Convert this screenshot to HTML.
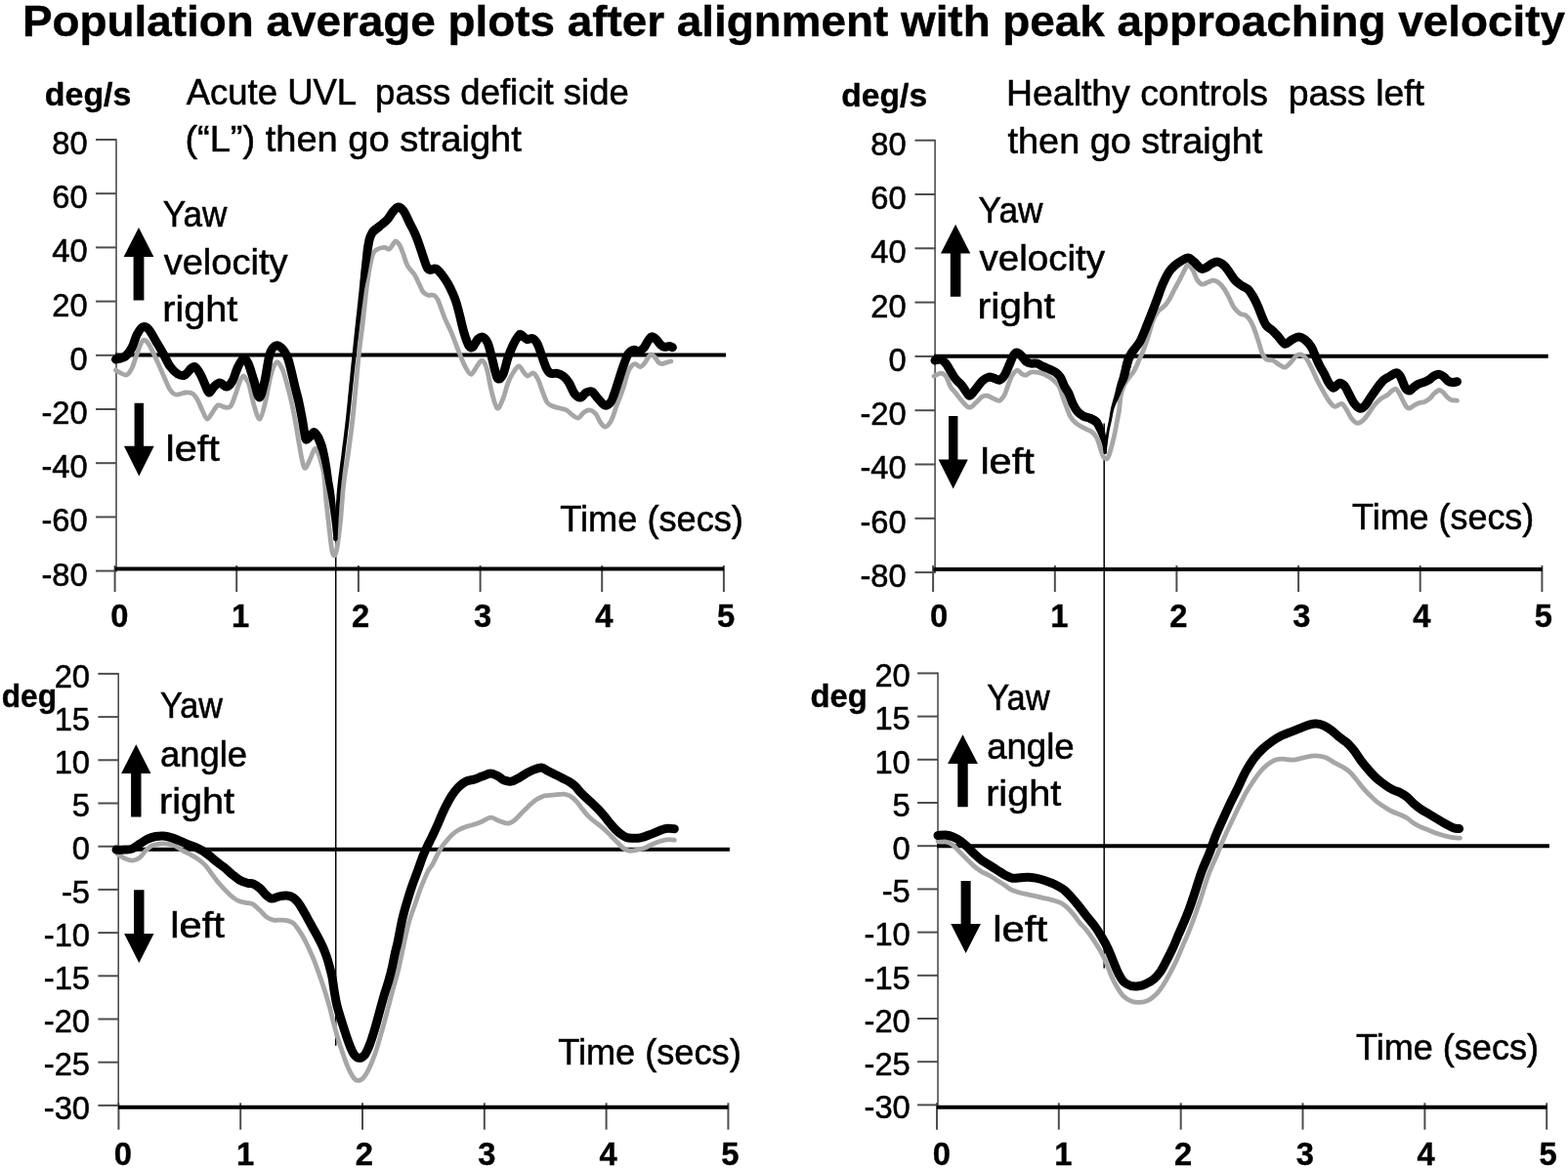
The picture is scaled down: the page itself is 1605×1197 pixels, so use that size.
<!DOCTYPE html>
<html><head><meta charset="utf-8"><title>Population average plots after alignment with peak approaching velocity</title>
<style>html,body{margin:0;padding:0;background:#fff;overflow:hidden}svg{display:block}text{font-family:"Liberation Sans", "DejaVu Sans", sans-serif}</style></head>
<body><svg width="1605" height="1197" viewBox="0 0 1605 1197">
<rect width="1605" height="1197" fill="#fff"/>
<text x="23.0" y="37.0" font-size="44.5" font-weight="bold" textLength="1579.0" lengthAdjust="spacingAndGlyphs" text-anchor="start" fill="#000" stroke="#000" stroke-width="0.4" xml:space="preserve">Population average plots after alignment with peak approaching velocity</text>
<line x1="119.0" y1="142.2" x2="119.0" y2="585.4" stroke="#4d4d4d" stroke-width="1.6" stroke-linecap="butt"/>
<line x1="98.0" y1="143.0" x2="119.0" y2="143.0" stroke="#4d4d4d" stroke-width="2.0" stroke-linecap="butt"/>
<text x="89.7" y="157.9" font-size="32.7" text-anchor="end" fill="#000" stroke="#000" stroke-width="0.55" xml:space="preserve">80</text>
<line x1="98.0" y1="198.2" x2="119.0" y2="198.2" stroke="#4d4d4d" stroke-width="2.0" stroke-linecap="butt"/>
<text x="89.7" y="213.1" font-size="32.7" text-anchor="end" fill="#000" stroke="#000" stroke-width="0.55" xml:space="preserve">60</text>
<line x1="98.0" y1="253.4" x2="119.0" y2="253.4" stroke="#4d4d4d" stroke-width="2.0" stroke-linecap="butt"/>
<text x="89.7" y="268.3" font-size="32.7" text-anchor="end" fill="#000" stroke="#000" stroke-width="0.55" xml:space="preserve">40</text>
<line x1="98.0" y1="308.6" x2="119.0" y2="308.6" stroke="#4d4d4d" stroke-width="2.0" stroke-linecap="butt"/>
<text x="89.7" y="323.5" font-size="32.7" text-anchor="end" fill="#000" stroke="#000" stroke-width="0.55" xml:space="preserve">20</text>
<line x1="98.0" y1="363.8" x2="119.0" y2="363.8" stroke="#4d4d4d" stroke-width="2.0" stroke-linecap="butt"/>
<text x="89.7" y="378.7" font-size="32.7" text-anchor="end" fill="#000" stroke="#000" stroke-width="0.55" xml:space="preserve">0</text>
<line x1="98.0" y1="419.0" x2="119.0" y2="419.0" stroke="#4d4d4d" stroke-width="2.0" stroke-linecap="butt"/>
<text x="89.7" y="433.9" font-size="32.7" text-anchor="end" fill="#000" stroke="#000" stroke-width="0.55" xml:space="preserve">-20</text>
<line x1="98.0" y1="474.2" x2="119.0" y2="474.2" stroke="#4d4d4d" stroke-width="2.0" stroke-linecap="butt"/>
<text x="89.7" y="489.1" font-size="32.7" text-anchor="end" fill="#000" stroke="#000" stroke-width="0.55" xml:space="preserve">-40</text>
<line x1="98.0" y1="529.4" x2="119.0" y2="529.4" stroke="#4d4d4d" stroke-width="2.0" stroke-linecap="butt"/>
<text x="89.7" y="544.3" font-size="32.7" text-anchor="end" fill="#000" stroke="#000" stroke-width="0.55" xml:space="preserve">-60</text>
<line x1="98.0" y1="584.6" x2="119.0" y2="584.6" stroke="#4d4d4d" stroke-width="2.0" stroke-linecap="butt"/>
<text x="89.7" y="599.5" font-size="32.7" text-anchor="end" fill="#000" stroke="#000" stroke-width="0.55" xml:space="preserve">-80</text>
<line x1="117.6" y1="579.0" x2="117.6" y2="606.0" stroke="#4d4d4d" stroke-width="2.0" stroke-linecap="butt"/>
<text x="122.3" y="642.0" font-size="32.7" font-weight="bold" text-anchor="middle" fill="#000" stroke="#000" stroke-width="0.4" xml:space="preserve">0</text>
<line x1="242.2" y1="579.0" x2="242.2" y2="606.0" stroke="#4d4d4d" stroke-width="2.0" stroke-linecap="butt"/>
<text x="246.0" y="642.0" font-size="32.7" font-weight="bold" text-anchor="middle" fill="#000" stroke="#000" stroke-width="0.4" xml:space="preserve">1</text>
<line x1="366.9" y1="579.0" x2="366.9" y2="606.0" stroke="#4d4d4d" stroke-width="2.0" stroke-linecap="butt"/>
<text x="369.0" y="642.0" font-size="32.7" font-weight="bold" text-anchor="middle" fill="#000" stroke="#000" stroke-width="0.4" xml:space="preserve">2</text>
<line x1="491.6" y1="579.0" x2="491.6" y2="606.0" stroke="#4d4d4d" stroke-width="2.0" stroke-linecap="butt"/>
<text x="494.0" y="642.0" font-size="32.7" font-weight="bold" text-anchor="middle" fill="#000" stroke="#000" stroke-width="0.4" xml:space="preserve">3</text>
<line x1="616.2" y1="579.0" x2="616.2" y2="606.0" stroke="#4d4d4d" stroke-width="2.0" stroke-linecap="butt"/>
<text x="618.3" y="642.0" font-size="32.7" font-weight="bold" text-anchor="middle" fill="#000" stroke="#000" stroke-width="0.4" xml:space="preserve">4</text>
<line x1="740.9" y1="579.0" x2="740.9" y2="606.0" stroke="#4d4d4d" stroke-width="2.0" stroke-linecap="butt"/>
<text x="743.2" y="642.0" font-size="32.7" font-weight="bold" text-anchor="middle" fill="#000" stroke="#000" stroke-width="0.4" xml:space="preserve">5</text>
<line x1="957.1" y1="142.9" x2="957.1" y2="586.9" stroke="#4d4d4d" stroke-width="1.6" stroke-linecap="butt"/>
<line x1="936.5" y1="143.7" x2="957.1" y2="143.7" stroke="#4d4d4d" stroke-width="2.0" stroke-linecap="butt"/>
<text x="927.7" y="158.6" font-size="32.7" text-anchor="end" fill="#000" stroke="#000" stroke-width="0.55" xml:space="preserve">80</text>
<line x1="936.5" y1="199.0" x2="957.1" y2="199.0" stroke="#4d4d4d" stroke-width="2.0" stroke-linecap="butt"/>
<text x="927.7" y="213.9" font-size="32.7" text-anchor="end" fill="#000" stroke="#000" stroke-width="0.55" xml:space="preserve">60</text>
<line x1="936.5" y1="254.3" x2="957.1" y2="254.3" stroke="#4d4d4d" stroke-width="2.0" stroke-linecap="butt"/>
<text x="927.7" y="269.2" font-size="32.7" text-anchor="end" fill="#000" stroke="#000" stroke-width="0.55" xml:space="preserve">40</text>
<line x1="936.5" y1="309.6" x2="957.1" y2="309.6" stroke="#4d4d4d" stroke-width="2.0" stroke-linecap="butt"/>
<text x="927.7" y="324.5" font-size="32.7" text-anchor="end" fill="#000" stroke="#000" stroke-width="0.55" xml:space="preserve">20</text>
<line x1="936.5" y1="364.9" x2="957.1" y2="364.9" stroke="#4d4d4d" stroke-width="2.0" stroke-linecap="butt"/>
<text x="927.7" y="379.8" font-size="32.7" text-anchor="end" fill="#000" stroke="#000" stroke-width="0.55" xml:space="preserve">0</text>
<line x1="936.5" y1="420.2" x2="957.1" y2="420.2" stroke="#4d4d4d" stroke-width="2.0" stroke-linecap="butt"/>
<text x="927.7" y="435.1" font-size="32.7" text-anchor="end" fill="#000" stroke="#000" stroke-width="0.55" xml:space="preserve">-20</text>
<line x1="936.5" y1="475.5" x2="957.1" y2="475.5" stroke="#4d4d4d" stroke-width="2.0" stroke-linecap="butt"/>
<text x="927.7" y="490.4" font-size="32.7" text-anchor="end" fill="#000" stroke="#000" stroke-width="0.55" xml:space="preserve">-40</text>
<line x1="936.5" y1="530.8" x2="957.1" y2="530.8" stroke="#4d4d4d" stroke-width="2.0" stroke-linecap="butt"/>
<text x="927.7" y="545.7" font-size="32.7" text-anchor="end" fill="#000" stroke="#000" stroke-width="0.55" xml:space="preserve">-60</text>
<line x1="936.5" y1="586.1" x2="957.1" y2="586.1" stroke="#4d4d4d" stroke-width="2.0" stroke-linecap="butt"/>
<text x="927.7" y="601.0" font-size="32.7" text-anchor="end" fill="#000" stroke="#000" stroke-width="0.55" xml:space="preserve">-80</text>
<line x1="955.1" y1="579.0" x2="955.1" y2="606.0" stroke="#4d4d4d" stroke-width="2.0" stroke-linecap="butt"/>
<text x="961.0" y="642.0" font-size="32.7" font-weight="bold" text-anchor="middle" fill="#000" stroke="#000" stroke-width="0.4" xml:space="preserve">0</text>
<line x1="1079.8" y1="579.0" x2="1079.8" y2="606.0" stroke="#4d4d4d" stroke-width="2.0" stroke-linecap="butt"/>
<text x="1084.4" y="642.0" font-size="32.7" font-weight="bold" text-anchor="middle" fill="#000" stroke="#000" stroke-width="0.4" xml:space="preserve">1</text>
<line x1="1204.4" y1="579.0" x2="1204.4" y2="606.0" stroke="#4d4d4d" stroke-width="2.0" stroke-linecap="butt"/>
<text x="1206.3" y="642.0" font-size="32.7" font-weight="bold" text-anchor="middle" fill="#000" stroke="#000" stroke-width="0.4" xml:space="preserve">2</text>
<line x1="1329.1" y1="579.0" x2="1329.1" y2="606.0" stroke="#4d4d4d" stroke-width="2.0" stroke-linecap="butt"/>
<text x="1332.3" y="642.0" font-size="32.7" font-weight="bold" text-anchor="middle" fill="#000" stroke="#000" stroke-width="0.4" xml:space="preserve">3</text>
<line x1="1453.7" y1="579.0" x2="1453.7" y2="606.0" stroke="#4d4d4d" stroke-width="2.0" stroke-linecap="butt"/>
<text x="1455.4" y="642.0" font-size="32.7" font-weight="bold" text-anchor="middle" fill="#000" stroke="#000" stroke-width="0.4" xml:space="preserve">4</text>
<line x1="1578.4" y1="579.0" x2="1578.4" y2="606.0" stroke="#4d4d4d" stroke-width="2.0" stroke-linecap="butt"/>
<text x="1579.9" y="642.0" font-size="32.7" font-weight="bold" text-anchor="middle" fill="#000" stroke="#000" stroke-width="0.4" xml:space="preserve">5</text>
<line x1="121.2" y1="689.1" x2="121.2" y2="1132.7" stroke="#4d4d4d" stroke-width="1.6" stroke-linecap="butt"/>
<line x1="100.4" y1="689.9" x2="121.2" y2="689.9" stroke="#4d4d4d" stroke-width="2.0" stroke-linecap="butt"/>
<text x="92.0" y="703.6" font-size="32.7" text-anchor="end" fill="#000" stroke="#000" stroke-width="0.55" xml:space="preserve">20</text>
<line x1="100.4" y1="734.1" x2="121.2" y2="734.1" stroke="#4d4d4d" stroke-width="2.0" stroke-linecap="butt"/>
<text x="92.0" y="747.8" font-size="32.7" text-anchor="end" fill="#000" stroke="#000" stroke-width="0.55" xml:space="preserve">15</text>
<line x1="100.4" y1="778.3" x2="121.2" y2="778.3" stroke="#4d4d4d" stroke-width="2.0" stroke-linecap="butt"/>
<text x="92.0" y="792.0" font-size="32.7" text-anchor="end" fill="#000" stroke="#000" stroke-width="0.55" xml:space="preserve">10</text>
<line x1="100.4" y1="822.5" x2="121.2" y2="822.5" stroke="#4d4d4d" stroke-width="2.0" stroke-linecap="butt"/>
<text x="92.0" y="836.2" font-size="32.7" text-anchor="end" fill="#000" stroke="#000" stroke-width="0.55" xml:space="preserve">5</text>
<line x1="100.4" y1="866.7" x2="121.2" y2="866.7" stroke="#4d4d4d" stroke-width="2.0" stroke-linecap="butt"/>
<text x="92.0" y="880.4" font-size="32.7" text-anchor="end" fill="#000" stroke="#000" stroke-width="0.55" xml:space="preserve">0</text>
<line x1="100.4" y1="910.9" x2="121.2" y2="910.9" stroke="#4d4d4d" stroke-width="2.0" stroke-linecap="butt"/>
<text x="92.0" y="924.6" font-size="32.7" text-anchor="end" fill="#000" stroke="#000" stroke-width="0.55" xml:space="preserve">-5</text>
<line x1="100.4" y1="955.1" x2="121.2" y2="955.1" stroke="#4d4d4d" stroke-width="2.0" stroke-linecap="butt"/>
<text x="92.0" y="968.8" font-size="32.7" text-anchor="end" fill="#000" stroke="#000" stroke-width="0.55" xml:space="preserve">-10</text>
<line x1="100.4" y1="999.3" x2="121.2" y2="999.3" stroke="#4d4d4d" stroke-width="2.0" stroke-linecap="butt"/>
<text x="92.0" y="1013.0" font-size="32.7" text-anchor="end" fill="#000" stroke="#000" stroke-width="0.55" xml:space="preserve">-15</text>
<line x1="100.4" y1="1043.5" x2="121.2" y2="1043.5" stroke="#4d4d4d" stroke-width="2.0" stroke-linecap="butt"/>
<text x="92.0" y="1057.2" font-size="32.7" text-anchor="end" fill="#000" stroke="#000" stroke-width="0.55" xml:space="preserve">-20</text>
<line x1="100.4" y1="1087.7" x2="121.2" y2="1087.7" stroke="#4d4d4d" stroke-width="2.0" stroke-linecap="butt"/>
<text x="92.0" y="1101.4" font-size="32.7" text-anchor="end" fill="#000" stroke="#000" stroke-width="0.55" xml:space="preserve">-25</text>
<line x1="100.4" y1="1131.9" x2="121.2" y2="1131.9" stroke="#4d4d4d" stroke-width="2.0" stroke-linecap="butt"/>
<text x="92.0" y="1145.6" font-size="32.7" text-anchor="end" fill="#000" stroke="#000" stroke-width="0.55" xml:space="preserve">-30</text>
<line x1="121.4" y1="1129.3" x2="121.4" y2="1156.7" stroke="#4d4d4d" stroke-width="2.0" stroke-linecap="butt"/>
<text x="125.9" y="1192.5" font-size="32.7" font-weight="bold" text-anchor="middle" fill="#000" stroke="#000" stroke-width="0.4" xml:space="preserve">0</text>
<line x1="246.2" y1="1129.3" x2="246.2" y2="1156.7" stroke="#4d4d4d" stroke-width="2.0" stroke-linecap="butt"/>
<text x="251.1" y="1192.5" font-size="32.7" font-weight="bold" text-anchor="middle" fill="#000" stroke="#000" stroke-width="0.4" xml:space="preserve">1</text>
<line x1="371.0" y1="1129.3" x2="371.0" y2="1156.7" stroke="#4d4d4d" stroke-width="2.0" stroke-linecap="butt"/>
<text x="372.8" y="1192.5" font-size="32.7" font-weight="bold" text-anchor="middle" fill="#000" stroke="#000" stroke-width="0.4" xml:space="preserve">2</text>
<line x1="495.8" y1="1129.3" x2="495.8" y2="1156.7" stroke="#4d4d4d" stroke-width="2.0" stroke-linecap="butt"/>
<text x="498.4" y="1192.5" font-size="32.7" font-weight="bold" text-anchor="middle" fill="#000" stroke="#000" stroke-width="0.4" xml:space="preserve">3</text>
<line x1="620.6" y1="1129.3" x2="620.6" y2="1156.7" stroke="#4d4d4d" stroke-width="2.0" stroke-linecap="butt"/>
<text x="622.5" y="1192.5" font-size="32.7" font-weight="bold" text-anchor="middle" fill="#000" stroke="#000" stroke-width="0.4" xml:space="preserve">4</text>
<line x1="745.4" y1="1129.3" x2="745.4" y2="1156.7" stroke="#4d4d4d" stroke-width="2.0" stroke-linecap="butt"/>
<text x="747.3" y="1192.5" font-size="32.7" font-weight="bold" text-anchor="middle" fill="#000" stroke="#000" stroke-width="0.4" xml:space="preserve">5</text>
<line x1="960.0" y1="688.6" x2="960.0" y2="1132.2" stroke="#4d4d4d" stroke-width="1.6" stroke-linecap="butt"/>
<line x1="939.1" y1="689.4" x2="960.0" y2="689.4" stroke="#4d4d4d" stroke-width="2.0" stroke-linecap="butt"/>
<text x="931.8" y="703.1" font-size="32.7" text-anchor="end" fill="#000" stroke="#000" stroke-width="0.55" xml:space="preserve">20</text>
<line x1="939.1" y1="733.6" x2="960.0" y2="733.6" stroke="#4d4d4d" stroke-width="2.0" stroke-linecap="butt"/>
<text x="931.8" y="747.3" font-size="32.7" text-anchor="end" fill="#000" stroke="#000" stroke-width="0.55" xml:space="preserve">15</text>
<line x1="939.1" y1="777.8" x2="960.0" y2="777.8" stroke="#4d4d4d" stroke-width="2.0" stroke-linecap="butt"/>
<text x="931.8" y="791.5" font-size="32.7" text-anchor="end" fill="#000" stroke="#000" stroke-width="0.55" xml:space="preserve">10</text>
<line x1="939.1" y1="822.0" x2="960.0" y2="822.0" stroke="#4d4d4d" stroke-width="2.0" stroke-linecap="butt"/>
<text x="931.8" y="835.7" font-size="32.7" text-anchor="end" fill="#000" stroke="#000" stroke-width="0.55" xml:space="preserve">5</text>
<line x1="939.1" y1="866.2" x2="960.0" y2="866.2" stroke="#4d4d4d" stroke-width="2.0" stroke-linecap="butt"/>
<text x="931.8" y="879.9" font-size="32.7" text-anchor="end" fill="#000" stroke="#000" stroke-width="0.55" xml:space="preserve">0</text>
<line x1="939.1" y1="910.4" x2="960.0" y2="910.4" stroke="#4d4d4d" stroke-width="2.0" stroke-linecap="butt"/>
<text x="931.8" y="924.1" font-size="32.7" text-anchor="end" fill="#000" stroke="#000" stroke-width="0.55" xml:space="preserve">-5</text>
<line x1="939.1" y1="954.6" x2="960.0" y2="954.6" stroke="#4d4d4d" stroke-width="2.0" stroke-linecap="butt"/>
<text x="931.8" y="968.3" font-size="32.7" text-anchor="end" fill="#000" stroke="#000" stroke-width="0.55" xml:space="preserve">-10</text>
<line x1="939.1" y1="998.8" x2="960.0" y2="998.8" stroke="#4d4d4d" stroke-width="2.0" stroke-linecap="butt"/>
<text x="931.8" y="1012.5" font-size="32.7" text-anchor="end" fill="#000" stroke="#000" stroke-width="0.55" xml:space="preserve">-15</text>
<line x1="939.1" y1="1043.0" x2="960.0" y2="1043.0" stroke="#4d4d4d" stroke-width="2.0" stroke-linecap="butt"/>
<text x="931.8" y="1056.7" font-size="32.7" text-anchor="end" fill="#000" stroke="#000" stroke-width="0.55" xml:space="preserve">-20</text>
<line x1="939.1" y1="1087.2" x2="960.0" y2="1087.2" stroke="#4d4d4d" stroke-width="2.0" stroke-linecap="butt"/>
<text x="931.8" y="1100.9" font-size="32.7" text-anchor="end" fill="#000" stroke="#000" stroke-width="0.55" xml:space="preserve">-25</text>
<line x1="939.1" y1="1131.4" x2="960.0" y2="1131.4" stroke="#4d4d4d" stroke-width="2.0" stroke-linecap="butt"/>
<text x="931.8" y="1145.1" font-size="32.7" text-anchor="end" fill="#000" stroke="#000" stroke-width="0.55" xml:space="preserve">-30</text>
<line x1="959.0" y1="1129.3" x2="959.0" y2="1156.7" stroke="#4d4d4d" stroke-width="2.0" stroke-linecap="butt"/>
<text x="963.9" y="1192.5" font-size="32.7" font-weight="bold" text-anchor="middle" fill="#000" stroke="#000" stroke-width="0.4" xml:space="preserve">0</text>
<line x1="1083.8" y1="1129.3" x2="1083.8" y2="1156.7" stroke="#4d4d4d" stroke-width="2.0" stroke-linecap="butt"/>
<text x="1088.3" y="1192.5" font-size="32.7" font-weight="bold" text-anchor="middle" fill="#000" stroke="#000" stroke-width="0.4" xml:space="preserve">1</text>
<line x1="1208.7" y1="1129.3" x2="1208.7" y2="1156.7" stroke="#4d4d4d" stroke-width="2.0" stroke-linecap="butt"/>
<text x="1211.0" y="1192.5" font-size="32.7" font-weight="bold" text-anchor="middle" fill="#000" stroke="#000" stroke-width="0.4" xml:space="preserve">2</text>
<line x1="1333.5" y1="1129.3" x2="1333.5" y2="1156.7" stroke="#4d4d4d" stroke-width="2.0" stroke-linecap="butt"/>
<text x="1335.8" y="1192.5" font-size="32.7" font-weight="bold" text-anchor="middle" fill="#000" stroke="#000" stroke-width="0.4" xml:space="preserve">3</text>
<line x1="1458.4" y1="1129.3" x2="1458.4" y2="1156.7" stroke="#4d4d4d" stroke-width="2.0" stroke-linecap="butt"/>
<text x="1459.5" y="1192.5" font-size="32.7" font-weight="bold" text-anchor="middle" fill="#000" stroke="#000" stroke-width="0.4" xml:space="preserve">4</text>
<line x1="1583.2" y1="1129.3" x2="1583.2" y2="1156.7" stroke="#4d4d4d" stroke-width="2.0" stroke-linecap="butt"/>
<text x="1584.6" y="1192.5" font-size="32.7" font-weight="bold" text-anchor="middle" fill="#000" stroke="#000" stroke-width="0.4" xml:space="preserve">5</text>
<text x="45.8" y="108.3" font-size="34" font-weight="bold" textLength="88.6" lengthAdjust="spacingAndGlyphs" text-anchor="start" fill="#000" stroke="#000" stroke-width="0.4" xml:space="preserve">deg/s</text>
<text x="190.7" y="107.4" font-size="36.2" textLength="453.1" lengthAdjust="spacingAndGlyphs" text-anchor="start" fill="#000" stroke="#000" stroke-width="0.55" xml:space="preserve">Acute UVL  pass deficit side</text>
<text x="189.4" y="154.8" font-size="36.2" textLength="344.4" lengthAdjust="spacingAndGlyphs" text-anchor="start" fill="#000" stroke="#000" stroke-width="0.55" xml:space="preserve">(“L”) then go straight</text>
<text x="166.7" y="231.7" font-size="36.2" textLength="65.7" lengthAdjust="spacingAndGlyphs" text-anchor="start" fill="#000" stroke="#000" stroke-width="0.55" xml:space="preserve">Yaw</text>
<text x="167.7" y="280.5" font-size="36.2" textLength="126.8" lengthAdjust="spacingAndGlyphs" text-anchor="start" fill="#000" stroke="#000" stroke-width="0.55" xml:space="preserve">velocity</text>
<text x="166.2" y="329.4" font-size="36.2" textLength="77.1" lengthAdjust="spacingAndGlyphs" text-anchor="start" fill="#000" stroke="#000" stroke-width="0.55" xml:space="preserve">right</text>
<text x="169.5" y="472.0" font-size="36.2" textLength="55.3" lengthAdjust="spacingAndGlyphs" text-anchor="start" fill="#000" stroke="#000" stroke-width="0.55" xml:space="preserve">left</text>
<text x="573.3" y="543.7" font-size="36.2" textLength="187.6" lengthAdjust="spacingAndGlyphs" text-anchor="start" fill="#000" stroke="#000" stroke-width="0.55" xml:space="preserve">Time (secs)</text>
<text x="861.3" y="108.5" font-size="34" font-weight="bold" textLength="87.8" lengthAdjust="spacingAndGlyphs" text-anchor="start" fill="#000" stroke="#000" stroke-width="0.4" xml:space="preserve">deg/s</text>
<text x="1030.1" y="107.8" font-size="36.2" textLength="427.9" lengthAdjust="spacingAndGlyphs" text-anchor="start" fill="#000" stroke="#000" stroke-width="0.55" xml:space="preserve">Healthy controls  pass left</text>
<text x="1031.6" y="156.5" font-size="36.2" textLength="260.6" lengthAdjust="spacingAndGlyphs" text-anchor="start" fill="#000" stroke="#000" stroke-width="0.55" xml:space="preserve">then go straight</text>
<text x="1001.6" y="227.7" font-size="36.2" textLength="65.8" lengthAdjust="spacingAndGlyphs" text-anchor="start" fill="#000" stroke="#000" stroke-width="0.55" xml:space="preserve">Yaw</text>
<text x="1002.6" y="277.0" font-size="36.2" textLength="128.3" lengthAdjust="spacingAndGlyphs" text-anchor="start" fill="#000" stroke="#000" stroke-width="0.55" xml:space="preserve">velocity</text>
<text x="1000.6" y="326.4" font-size="36.2" textLength="79.3" lengthAdjust="spacingAndGlyphs" text-anchor="start" fill="#000" stroke="#000" stroke-width="0.55" xml:space="preserve">right</text>
<text x="1003.4" y="485.0" font-size="36.2" textLength="55.3" lengthAdjust="spacingAndGlyphs" text-anchor="start" fill="#000" stroke="#000" stroke-width="0.55" xml:space="preserve">left</text>
<text x="1384.1" y="542.4" font-size="36.2" textLength="186.2" lengthAdjust="spacingAndGlyphs" text-anchor="start" fill="#000" stroke="#000" stroke-width="0.55" xml:space="preserve">Time (secs)</text>
<text x="1.7" y="724.3" font-size="34" font-weight="bold" textLength="56.3" lengthAdjust="spacingAndGlyphs" text-anchor="start" fill="#000" stroke="#000" stroke-width="0.4" xml:space="preserve">deg</text>
<text x="164.1" y="734.8" font-size="36.2" textLength="63.9" lengthAdjust="spacingAndGlyphs" text-anchor="start" fill="#000" stroke="#000" stroke-width="0.55" xml:space="preserve">Yaw</text>
<text x="164.1" y="784.6" font-size="36.2" textLength="89.0" lengthAdjust="spacingAndGlyphs" text-anchor="start" fill="#000" stroke="#000" stroke-width="0.55" xml:space="preserve">angle</text>
<text x="163.1" y="833.2" font-size="36.2" textLength="76.8" lengthAdjust="spacingAndGlyphs" text-anchor="start" fill="#000" stroke="#000" stroke-width="0.55" xml:space="preserve">right</text>
<text x="174.2" y="959.8" font-size="36.2" textLength="55.7" lengthAdjust="spacingAndGlyphs" text-anchor="start" fill="#000" stroke="#000" stroke-width="0.55" xml:space="preserve">left</text>
<text x="571.2" y="1090.0" font-size="36.2" textLength="187.5" lengthAdjust="spacingAndGlyphs" text-anchor="start" fill="#000" stroke="#000" stroke-width="0.55" xml:space="preserve">Time (secs)</text>
<text x="829.6" y="724.3" font-size="34" font-weight="bold" textLength="58.3" lengthAdjust="spacingAndGlyphs" text-anchor="start" fill="#000" stroke="#000" stroke-width="0.4" xml:space="preserve">deg</text>
<text x="1010.2" y="727.3" font-size="36.2" textLength="64.4" lengthAdjust="spacingAndGlyphs" text-anchor="start" fill="#000" stroke="#000" stroke-width="0.55" xml:space="preserve">Yaw</text>
<text x="1010.2" y="776.6" font-size="36.2" textLength="89.5" lengthAdjust="spacingAndGlyphs" text-anchor="start" fill="#000" stroke="#000" stroke-width="0.55" xml:space="preserve">angle</text>
<text x="1009.2" y="825.2" font-size="36.2" textLength="77.0" lengthAdjust="spacingAndGlyphs" text-anchor="start" fill="#000" stroke="#000" stroke-width="0.55" xml:space="preserve">right</text>
<text x="1016.2" y="964.3" font-size="36.2" textLength="55.9" lengthAdjust="spacingAndGlyphs" text-anchor="start" fill="#000" stroke="#000" stroke-width="0.55" xml:space="preserve">left</text>
<text x="1388.0" y="1084.6" font-size="36.2" textLength="187.0" lengthAdjust="spacingAndGlyphs" text-anchor="start" fill="#000" stroke="#000" stroke-width="0.55" xml:space="preserve">Time (secs)</text>
<line x1="118.0" y1="363.6" x2="743.0" y2="363.6" stroke="#000" stroke-width="4.0" stroke-linecap="butt"/>
<line x1="117.6" y1="582.5" x2="741.0" y2="582.5" stroke="#000" stroke-width="4" stroke-linecap="butt"/>
<line x1="956.0" y1="364.7" x2="1584.7" y2="364.7" stroke="#000" stroke-width="4.0" stroke-linecap="butt"/>
<line x1="955.5" y1="583.0" x2="1578.8" y2="583.0" stroke="#000" stroke-width="4" stroke-linecap="butt"/>
<line x1="120.0" y1="869.8" x2="746.9" y2="869.8" stroke="#000" stroke-width="4.0" stroke-linecap="butt"/>
<line x1="121.0" y1="1133.8" x2="745.4" y2="1133.8" stroke="#000" stroke-width="4" stroke-linecap="butt"/>
<line x1="959.0" y1="866.2" x2="1585.9" y2="866.2" stroke="#000" stroke-width="4.0" stroke-linecap="butt"/>
<line x1="958.8" y1="1133.8" x2="1583.2" y2="1133.8" stroke="#000" stroke-width="4" stroke-linecap="butt"/>
<line x1="343.7" y1="540.0" x2="343.7" y2="1070.7" stroke="#000" stroke-width="1.5" stroke-linecap="butt"/>
<line x1="1130.2" y1="433.6" x2="1130.2" y2="991.5" stroke="#000" stroke-width="1.5" stroke-linecap="butt"/>
<path d="M142.0,232.9 L157.4,263.0 L147.4,263.0 L147.4,307.6 L136.6,307.6 L136.6,263.0 L126.6,263.0 Z" fill="#000"/>
<path d="M137.6,412.7 L147.0,412.7 L147.0,456.8 L157.7,456.8 L142.3,487.6 L126.9,456.8 L137.6,456.8 Z" fill="#000"/>
<path d="M978.1,229.7 L993.3,259.6 L983.4,259.6 L983.4,303.7 L972.8,303.7 L972.8,259.6 L962.9,259.6 Z" fill="#000"/>
<path d="M971.0,426.0 L980.4,426.0 L980.4,470.5 L990.8,470.5 L975.7,500.4 L960.6,470.5 L971.0,470.5 Z" fill="#000"/>
<path d="M139.3,762.2 L154.5,792.1 L144.5,792.1 L144.5,836.4 L134.1,836.4 L134.1,792.1 L124.1,792.1 Z" fill="#000"/>
<path d="M137.1,911.2 L147.5,911.2 L147.5,956.0 L157.5,956.0 L142.3,986.0 L127.1,956.0 L137.1,956.0 Z" fill="#000"/>
<path d="M985.5,752.2 L1000.9,782.1 L990.7,782.1 L990.7,826.2 L980.3,826.2 L980.3,782.1 L970.1,782.1 Z" fill="#000"/>
<path d="M983.6,902.0 L993.6,902.0 L993.6,946.1 L1003.9,946.1 L988.6,976.0 L973.3,946.1 L983.6,946.1 Z" fill="#000"/>
<path d="M118.5,379.0 C120.2,379.8 126.2,384.3 129.0,384.0 C131.8,383.7 133.2,380.5 135.0,377.0 C136.8,373.5 138.2,367.7 140.0,363.0 C141.8,358.3 144.0,350.8 146.0,349.0 C148.0,347.2 149.7,348.8 152.0,352.0 C154.3,355.2 157.3,362.3 160.0,368.0 C162.7,373.7 165.7,380.8 168.0,386.0 C170.3,391.2 172.0,396.0 174.0,399.0 C176.0,402.0 177.3,403.5 180.0,404.0 C182.7,404.5 187.2,402.2 190.0,402.0 C192.8,401.8 195.0,401.8 197.0,403.0 C199.0,404.2 200.3,406.2 202.0,409.0 C203.7,411.8 205.3,416.7 207.0,420.0 C208.7,423.3 210.3,428.5 212.0,429.0 C213.7,429.5 215.2,425.3 217.0,423.0 C218.8,420.7 220.8,416.0 223.0,415.0 C225.2,414.0 227.8,416.8 230.0,417.0 C232.2,417.2 234.2,418.2 236.0,416.0 C237.8,413.8 239.5,408.0 241.0,404.0 C242.5,400.0 243.7,395.2 245.0,392.0 C246.3,388.8 247.7,385.3 249.0,385.0 C250.3,384.7 252.0,388.5 253.0,390.0 C254.0,391.5 253.8,389.8 255.0,394.0 C256.2,398.2 258.2,409.2 260.0,415.0 C261.8,420.8 264.0,429.8 266.0,429.0 C268.0,428.2 270.2,417.3 272.0,410.0 C273.8,402.7 275.2,391.5 277.0,385.0 C278.8,378.5 281.0,372.2 283.0,371.0 C285.0,369.8 287.1,374.0 289.0,378.0 C290.9,382.0 292.6,389.4 294.2,395.0 C295.8,400.6 297.0,405.4 298.4,411.7 C299.8,418.0 301.1,425.0 302.5,432.6 C303.9,440.2 305.4,450.7 306.7,457.6 C307.9,464.6 309.0,470.7 310.0,474.3 C311.0,477.9 311.4,479.7 312.5,479.3 C313.6,478.9 315.4,474.4 316.7,471.8 C318.0,469.2 319.1,465.6 320.1,463.5 C321.1,461.4 321.6,459.2 322.6,459.3 C323.6,459.4 324.8,461.7 325.9,464.3 C327.0,466.9 328.2,471.4 329.2,475.2 C330.2,479.0 331.1,481.1 331.8,486.9 C332.5,492.7 332.8,501.2 333.6,510.0 C334.4,518.8 335.8,530.7 336.8,539.4 C337.8,548.1 338.7,557.1 339.5,562.0 C340.3,566.9 340.8,567.7 341.5,568.5 C342.2,569.3 342.8,568.8 343.5,567.0 C344.2,565.2 344.7,563.6 345.5,558.0 C346.3,552.4 347.4,544.1 348.5,533.6 C349.6,523.1 350.4,506.9 351.8,494.9 C353.2,482.9 355.3,472.9 356.8,461.8 C358.3,450.7 359.8,439.5 361.0,428.4 C362.2,417.3 363.2,406.4 364.3,395.0 C365.4,383.6 366.4,370.8 367.6,360.0 C368.8,349.2 370.2,340.5 371.4,330.0 C372.6,319.5 373.8,306.5 375.0,296.8 C376.2,287.1 377.6,278.1 378.8,271.8 C380.0,265.5 380.8,262.0 382.1,259.2 C383.4,256.4 384.9,256.0 386.8,255.0 C388.7,254.0 391.6,253.4 393.5,253.4 C395.4,253.4 396.8,255.8 398.5,255.0 C400.2,254.2 402.3,249.7 403.5,248.4 C404.7,247.1 404.6,246.7 405.5,247.2 C406.4,247.7 407.9,248.9 409.2,251.2 C410.5,253.5 411.9,257.7 413.2,261.2 C414.5,264.7 415.3,268.8 417.2,272.2 C419.1,275.6 422.3,278.1 424.3,281.3 C426.3,284.5 427.8,288.3 429.3,291.3 C430.8,294.3 431.8,297.5 433.3,299.3 C434.8,301.1 436.5,301.8 438.3,302.3 C440.1,302.8 442.6,301.5 444.3,302.3 C446.0,303.1 446.5,303.5 448.3,307.3 C450.1,311.1 452.5,319.1 455.0,325.1 C457.5,331.1 460.6,337.1 463.1,343.1 C465.6,349.1 467.9,355.9 470.1,361.2 C472.3,366.5 474.1,371.5 476.1,375.2 C478.1,378.9 480.1,383.3 482.1,383.3 C484.1,383.3 486.2,377.6 488.1,375.2 C490.0,372.8 491.5,368.9 493.2,369.2 C494.9,369.5 496.6,372.1 498.2,377.2 C499.8,382.3 501.2,393.2 503.0,400.0 C504.8,406.8 507.0,416.7 509.0,418.0 C511.0,419.3 513.2,412.3 515.0,408.0 C516.8,403.7 518.3,396.3 520.0,392.0 C521.7,387.7 523.2,384.8 525.0,382.0 C526.8,379.2 529.2,375.2 531.0,375.0 C532.8,374.8 534.5,379.3 536.0,381.0 C537.5,382.7 538.3,384.8 540.0,385.0 C541.7,385.2 544.2,381.3 546.0,382.0 C547.8,382.7 549.5,386.0 551.0,389.0 C552.5,392.0 553.5,396.2 555.0,400.0 C556.5,403.8 558.2,409.3 560.0,412.0 C561.8,414.7 563.8,415.0 566.0,416.0 C568.2,417.0 570.7,417.3 573.0,418.0 C575.3,418.7 577.8,418.8 580.0,420.0 C582.2,421.2 584.0,423.7 586.0,425.0 C588.0,426.3 590.0,428.5 592.0,428.0 C594.0,427.5 596.0,423.3 598.0,422.0 C600.0,420.7 602.0,419.7 604.0,420.0 C606.0,420.3 608.2,421.8 610.0,424.0 C611.8,426.2 613.3,430.8 615.0,433.0 C616.7,435.2 618.2,437.5 620.0,437.0 C621.8,436.5 624.2,433.5 626.0,430.0 C627.8,426.5 629.3,420.5 631.0,416.0 C632.7,411.5 634.7,406.7 636.0,403.0 C637.3,399.3 637.9,397.6 639.0,394.0 C640.1,390.4 641.4,384.9 642.6,381.7 C643.8,378.5 645.0,376.4 646.3,374.9 C647.5,373.4 648.6,372.5 650.1,372.6 C651.6,372.7 653.7,375.7 655.3,375.6 C656.9,375.5 658.4,373.5 659.8,371.9 C661.2,370.3 662.5,367.4 663.6,365.9 C664.7,364.4 665.5,362.9 666.6,362.9 C667.7,362.9 669.1,364.5 670.4,365.9 C671.6,367.3 672.9,370.0 674.1,371.1 C675.4,372.2 676.5,372.6 677.9,372.6 C679.3,372.6 680.9,371.5 682.4,371.1 C683.9,370.7 686.1,370.2 686.9,370.0" fill="none" stroke="#a6a6a6" stroke-width="4.8" stroke-linejoin="round" stroke-linecap="round"/>
<path d="M118.5,368.0 C120.1,367.5 125.2,367.0 128.0,365.0 C130.8,363.0 133.0,359.7 135.0,356.0 C137.0,352.3 138.2,346.5 140.0,343.0 C141.8,339.5 144.0,336.0 146.0,335.0 C148.0,334.0 149.7,334.5 152.0,337.0 C154.3,339.5 157.5,345.8 160.0,350.0 C162.5,354.2 164.7,357.8 167.0,362.0 C169.3,366.2 171.5,371.5 174.0,375.0 C176.5,378.5 179.5,381.5 182.0,383.0 C184.5,384.5 186.7,385.0 189.0,384.0 C191.3,383.0 194.2,378.3 196.0,377.0 C197.8,375.7 198.5,375.0 200.0,376.0 C201.5,377.0 203.3,380.0 205.0,383.0 C206.7,386.0 208.5,390.8 210.0,394.0 C211.5,397.2 212.5,401.7 214.0,402.0 C215.5,402.3 217.2,397.7 219.0,396.0 C220.8,394.3 222.8,392.0 225.0,392.0 C227.2,392.0 229.8,396.3 232.0,396.0 C234.2,395.7 236.2,393.2 238.0,390.0 C239.8,386.8 241.2,380.8 243.0,377.0 C244.8,373.2 247.2,367.8 249.0,367.0 C250.8,366.2 252.2,368.2 254.0,372.0 C255.8,375.8 258.1,384.2 260.0,390.0 C261.9,395.8 263.7,407.0 265.5,407.0 C267.3,407.0 269.2,397.3 271.0,390.0 C272.8,382.7 274.2,369.0 276.0,363.0 C277.8,357.0 279.8,355.0 282.0,354.0 C284.2,353.0 286.8,354.7 289.0,357.0 C291.2,359.3 292.9,361.7 295.0,368.0 C297.1,374.3 299.9,387.7 301.7,395.0 C303.5,402.3 304.6,406.1 305.9,411.7 C307.1,417.3 308.2,423.1 309.2,428.4 C310.2,433.7 311.0,439.8 311.7,443.4 C312.4,447.0 312.4,449.5 313.4,450.1 C314.4,450.7 316.2,448.1 317.6,446.8 C319.0,445.6 320.3,442.3 321.7,442.6 C323.1,442.9 324.6,446.0 325.9,448.4 C327.1,450.8 328.6,455.4 329.2,456.8" fill="none" stroke="#000" stroke-width="9.0" stroke-linejoin="round" stroke-linecap="round"/>
<path d="M321.7,450.1 L321.9,450.6 L322.2,451.2 L322.5,452.0 L322.8,452.8 L323.2,453.7 L323.6,454.7 L323.9,455.6 L324.3,456.5 L324.6,457.4 L324.9,458.2 L325.2,459.1 L325.5,459.9 L325.8,460.7 L326.1,461.5 L326.3,462.3 L326.6,463.2 L326.9,464.1 L327.1,465.0 L327.4,465.9 L327.7,467.0 L328.0,468.0 L328.2,469.2 L328.5,470.3 L328.8,471.5 L329.1,472.8 L329.3,474.0 L329.6,475.3 L329.9,476.6 L330.2,477.9 L330.4,479.2 L330.7,480.5 L330.9,481.7 L331.2,483.0 L331.4,484.2 L331.6,485.5 L331.9,486.8 L332.1,488.2 L332.3,489.6 L332.6,491.1 L332.9,492.6 L333.2,494.2 L333.5,495.9 L333.8,497.5 L334.2,499.3 L334.5,501.0 L334.8,502.8 L335.2,504.7 L335.5,506.5 L335.8,508.5 L336.2,510.5 L336.5,512.5 L336.8,514.7 L337.2,517.0 L337.5,519.4 L337.9,521.8 L338.2,524.1 L338.5,526.5 L338.8,528.8 L339.1,531.1 L339.4,533.2 L339.7,535.4 L339.9,537.6 L340.2,539.8 L340.4,542.0 L340.6,544.1 L340.8,546.1 L341.0,548.0 L341.2,549.6 L341.3,551.0 L341.4,552.1 L345.4,551.9 L345.4,550.7 L345.3,549.3 L345.2,547.7 L345.2,545.8 L345.1,543.8 L345.0,541.6 L344.9,539.4 L344.8,537.2 L344.7,534.9 L344.6,532.8 L344.5,530.6 L344.3,528.3 L344.2,526.0 L344.0,523.5 L343.8,521.1 L343.7,518.7 L343.5,516.3 L343.3,514.0 L343.1,511.7 L342.8,509.5 L342.6,507.5 L342.3,505.5 L342.1,503.5 L341.8,501.6 L341.5,499.8 L341.2,498.0 L340.9,496.3 L340.6,494.6 L340.3,493.0 L340.1,491.4 L339.9,489.9 L339.7,488.4 L339.5,487.0 L339.3,485.6 L339.1,484.3 L338.9,483.0 L338.8,481.7 L338.6,480.4 L338.4,479.1 L338.2,477.8 L338.0,476.5 L337.7,475.2 L337.5,473.8 L337.3,472.5 L337.1,471.2 L336.8,469.9 L336.6,468.6 L336.4,467.4 L336.1,466.2 L335.9,465.0 L335.7,463.9 L335.4,462.9 L335.2,461.9 L335.0,460.9 L334.8,459.9 L334.5,459.0 L334.3,458.1 L334.0,457.2 L333.8,456.3 L333.5,455.4 L333.1,454.4 L332.8,453.3 L332.4,452.3 L332.0,451.3 L331.6,450.3 L331.2,449.4 L330.8,448.6 L330.5,447.8 L330.3,447.2 L330.1,446.7 Z" fill="#000" fill-rule="nonzero"/>
<circle cx="325.9" cy="448.4" r="4.5" fill="#000"/>
<circle cx="343.4" cy="552.0" r="2.0" fill="#000"/>
<path d="M345.4,552.1 L345.5,550.2 L345.7,547.7 L345.8,544.7 L346.0,541.3 L346.3,537.7 L346.5,534.0 L346.7,530.2 L347.0,526.6 L347.2,523.2 L347.4,520.1 L347.6,517.4 L347.8,514.8 L348.0,512.4 L348.1,510.0 L348.3,507.7 L348.5,505.3 L348.7,503.0 L348.9,500.5 L349.2,497.9 L349.5,495.1 L349.8,492.1 L350.2,489.0 L350.6,485.8 L351.0,482.5 L351.5,479.1 L351.9,475.7 L352.4,472.3 L352.8,468.8 L353.3,465.4 L353.7,462.0 L354.1,458.7 L354.5,455.4 L355.0,452.0 L355.4,448.7 L355.8,445.4 L356.2,442.0 L356.6,438.7 L357.1,435.3 L357.5,432.0 L357.8,428.6 L358.2,425.3 L358.6,421.9 L358.9,418.5 L359.3,415.2 L359.6,411.8 L359.9,408.4 L360.3,405.1 L360.6,401.8 L361.0,398.5 L361.3,395.2 L361.6,392.0 L362.0,388.8 L362.3,385.6 L362.6,382.4 L363.0,379.3 L363.3,376.2 L363.6,373.0 L364.0,369.8 L364.3,366.7 L364.7,363.4 L365.1,360.2 L365.5,356.9 L365.8,353.6 L366.2,350.3 L366.7,346.9 L367.1,343.6 L367.5,340.3 L367.9,336.9 L368.3,333.6 L368.7,330.3 L369.2,326.9 L369.6,323.3 L370.0,319.7 L370.5,316.1 L370.9,312.5 L371.4,309.0 L371.8,305.7 L372.2,302.6 L372.6,299.7 L373.0,297.1 L373.3,294.9 L373.7,293.0 L374.0,291.4 L374.3,290.0 L374.6,288.7 L374.9,287.5 L375.2,286.3 L375.4,285.1 L375.7,283.9 L376.0,282.5 L376.3,281.1 L376.5,279.7 L376.8,278.3 L377.1,276.9 L377.3,275.5 L377.5,274.1 L377.8,272.7 L378.0,271.3 L378.3,270.0 L378.5,268.6 L378.8,267.1 L379.0,265.7 L379.3,264.2 L379.5,262.8 L379.8,261.3 L380.0,259.9 L380.3,258.5 L380.5,257.2 L380.7,255.9 L380.9,254.7 L381.2,253.6 L381.3,252.4 L381.5,251.4 L381.7,250.3 L381.9,249.4 L382.0,248.5 L382.2,247.6 L382.4,246.8 L382.6,246.1 L382.8,245.4 L383.0,244.6 L383.3,243.9 L383.5,243.3 L383.8,242.7 L384.0,242.2 L384.3,241.6 L384.6,241.2 L384.9,240.7 L385.2,240.3 L385.5,239.9 L385.8,239.5 L386.2,239.1 L386.7,238.7 L387.3,238.2 L387.9,237.7 L388.6,237.3 L389.2,236.8 L389.8,236.4 L390.4,236.0 L390.8,235.7 L385.4,228.5 L385.1,228.7 L384.6,229.0 L384.1,229.5 L383.4,229.9 L382.6,230.5 L381.8,231.1 L381.0,231.8 L380.1,232.5 L379.3,233.3 L378.5,234.1 L377.9,234.9 L377.4,235.7 L376.8,236.5 L376.4,237.4 L376.0,238.2 L375.6,239.1 L375.2,239.9 L374.8,240.8 L374.5,241.7 L374.2,242.6 L373.9,243.6 L373.6,244.6 L373.4,245.7 L373.2,246.7 L373.0,247.7 L372.8,248.8 L372.6,249.9 L372.4,251.0 L372.2,252.1 L372.1,253.3 L371.9,254.5 L371.7,255.9 L371.5,257.3 L371.4,258.7 L371.2,260.2 L371.1,261.6 L370.9,263.1 L370.8,264.6 L370.6,266.0 L370.5,267.4 L370.3,268.8 L370.2,270.2 L370.0,271.6 L369.9,273.0 L369.7,274.4 L369.6,275.8 L369.4,277.2 L369.3,278.6 L369.1,280.1 L369.0,281.5 L368.9,282.8 L368.8,284.1 L368.7,285.3 L368.5,286.5 L368.4,287.7 L368.3,289.1 L368.2,290.6 L368.0,292.3 L367.8,294.2 L367.6,296.5 L367.4,299.1 L367.0,302.0 L366.7,305.1 L366.4,308.5 L366.0,312.0 L365.6,315.6 L365.2,319.2 L364.8,322.8 L364.4,326.3 L364.1,329.7 L363.7,333.1 L363.3,336.4 L363.0,339.7 L362.6,343.1 L362.3,346.4 L361.9,349.8 L361.6,353.1 L361.2,356.4 L360.9,359.7 L360.5,363.0 L360.2,366.2 L359.9,369.4 L359.5,372.6 L359.2,375.7 L358.9,378.9 L358.6,382.0 L358.3,385.2 L358.0,388.4 L357.6,391.6 L357.3,394.8 L357.0,398.1 L356.7,401.4 L356.3,404.7 L356.0,408.1 L355.7,411.4 L355.4,414.8 L355.0,418.1 L354.7,421.5 L354.3,424.8 L354.0,428.2 L353.6,431.5 L353.2,434.9 L352.8,438.2 L352.4,441.5 L352.0,444.9 L351.6,448.2 L351.2,451.6 L350.7,454.9 L350.3,458.2 L349.9,461.6 L349.5,464.9 L349.1,468.3 L348.6,471.8 L348.1,475.2 L347.7,478.6 L347.3,482.0 L346.8,485.3 L346.4,488.6 L346.0,491.7 L345.7,494.7 L345.4,497.5 L345.2,500.1 L344.9,502.6 L344.7,505.0 L344.5,507.4 L344.4,509.7 L344.2,512.1 L344.0,514.5 L343.8,517.1 L343.6,519.9 L343.4,522.9 L343.1,526.3 L342.9,530.0 L342.6,533.7 L342.4,537.4 L342.1,541.0 L341.9,544.4 L341.7,547.4 L341.5,549.9 L341.4,551.9 Z" fill="#000" fill-rule="nonzero"/>
<circle cx="343.4" cy="552.0" r="2.0" fill="#000"/>
<circle cx="388.1" cy="232.1" r="4.5" fill="#000"/>
<path d="M382.0,237.0 C383.0,236.2 385.7,234.1 388.1,232.1 C390.5,230.1 394.0,227.4 396.2,225.1 C398.4,222.8 399.4,220.3 401.2,218.1 C403.0,215.9 405.2,212.4 407.2,212.1 C409.2,211.8 411.2,213.4 413.2,216.1 C415.2,218.8 417.3,224.4 419.2,228.1 C421.1,231.8 422.8,234.8 424.3,238.1 C425.8,241.4 426.8,244.0 428.3,248.2 C429.8,252.4 431.8,258.9 433.3,263.2 C434.8,267.5 436.1,272.0 437.3,274.2 C438.5,276.4 438.8,276.1 440.3,276.3 C441.8,276.5 444.3,274.4 446.3,275.2 C448.3,276.0 450.3,278.8 452.3,281.3 C454.3,283.8 456.5,287.1 458.4,290.3 C460.2,293.5 461.9,297.0 463.4,300.3 C464.8,303.6 465.8,305.9 467.1,310.0 C468.4,314.1 469.8,319.9 471.1,325.1 C472.4,330.3 473.6,336.2 475.1,341.1 C476.6,346.0 478.6,351.9 480.1,354.2 C481.6,356.5 482.6,356.4 484.1,355.2 C485.6,354.0 487.4,348.9 489.1,347.2 C490.8,345.5 492.5,344.5 494.2,345.2 C495.9,345.9 497.7,347.9 499.2,351.2 C500.7,354.5 501.9,360.2 503.2,365.2 C504.5,370.2 506.1,377.5 507.2,381.3 C508.3,385.1 508.7,387.7 510.0,388.0 C511.3,388.3 513.3,386.7 515.0,383.0 C516.7,379.3 518.3,371.0 520.0,366.0 C521.7,361.0 523.6,356.6 525.3,353.0 C527.0,349.4 529.0,346.2 530.3,344.5 C531.6,342.8 531.5,342.0 533.0,342.5 C534.5,343.0 537.2,346.8 539.3,347.5 C541.3,348.2 543.5,345.7 545.3,346.5 C547.1,347.3 548.7,349.3 550.3,352.5 C551.9,355.7 553.5,361.4 555.0,365.5 C556.5,369.6 558.0,374.4 559.4,377.2 C560.8,380.0 561.6,381.4 563.4,382.3 C565.2,383.2 568.1,381.8 570.4,382.3 C572.7,382.8 575.0,383.9 577.0,385.5 C579.0,387.1 580.6,388.9 582.4,391.8 C584.2,394.7 586.1,400.5 588.0,403.0 C589.9,405.5 592.0,407.2 594.0,407.0 C596.0,406.8 598.0,403.0 600.0,402.0 C602.0,401.0 604.0,400.0 606.0,401.0 C608.0,402.0 609.8,405.7 612.0,408.0 C614.2,410.3 616.8,414.3 619.0,415.0 C621.2,415.7 623.4,413.8 625.0,412.0 C626.6,410.2 627.4,406.8 628.5,404.0 C629.6,401.2 630.4,398.4 631.5,395.0 C632.6,391.6 633.8,387.6 635.0,383.9 C636.2,380.2 637.4,376.2 638.8,372.6 C640.2,369.0 641.7,364.5 643.3,362.1 C644.9,359.7 646.9,358.7 648.6,358.3 C650.4,357.9 652.0,360.2 653.8,359.8 C655.5,359.4 657.5,358.0 659.1,356.1 C660.7,354.2 662.2,350.5 663.6,348.6 C665.0,346.7 666.0,344.9 667.4,344.8 C668.8,344.7 670.4,346.4 671.9,347.8 C673.4,349.2 675.0,351.9 676.4,353.1 C677.8,354.4 678.7,355.1 680.2,355.3 C681.7,355.6 684.0,354.5 685.4,354.6 C686.8,354.7 687.9,355.5 688.4,355.7" fill="none" stroke="#000" stroke-width="9.0" stroke-linejoin="round" stroke-linecap="round"/>
<path d="M956.0,385.1 C957.2,384.6 961.0,382.1 963.0,382.1 C965.0,382.1 966.4,382.8 968.1,385.1 C969.8,387.5 971.4,393.4 973.1,396.2 C974.8,399.0 976.1,399.7 978.1,402.2 C980.1,404.7 982.8,408.7 985.1,411.2 C987.4,413.7 989.8,417.0 992.1,417.2 C994.5,417.4 997.0,414.0 999.2,412.2 C1001.4,410.4 1003.4,407.4 1005.2,406.2 C1007.0,405.0 1008.2,404.9 1010.2,405.2 C1012.2,405.5 1015.0,407.4 1017.2,408.2 C1019.4,409.0 1021.4,410.9 1023.2,410.2 C1025.0,409.5 1026.8,407.0 1028.3,404.2 C1029.8,401.4 1031.0,396.5 1032.3,393.2 C1033.6,389.9 1034.8,386.5 1036.3,384.1 C1037.8,381.8 1039.6,379.3 1041.3,379.1 C1043.0,378.9 1044.8,382.3 1046.3,383.1 C1047.8,383.9 1048.8,384.4 1050.3,384.1 C1051.8,383.8 1053.4,381.6 1055.3,381.1 C1057.2,380.6 1059.2,380.8 1061.4,381.1 C1063.6,381.4 1066.1,382.1 1068.4,383.1 C1070.7,384.1 1073.4,385.8 1075.4,387.1 C1077.4,388.5 1078.9,389.7 1080.4,391.2 C1081.9,392.7 1083.2,393.9 1084.4,396.2 C1085.6,398.5 1086.2,401.9 1087.4,405.2 C1088.6,408.5 1090.1,412.7 1091.4,416.2 C1092.8,419.7 1094.0,423.6 1095.5,426.3 C1097.0,429.0 1098.8,430.8 1100.5,432.5 C1102.2,434.2 1103.9,435.1 1106.0,436.3 C1108.1,437.6 1111.2,439.0 1113.1,440.0 C1115.0,441.0 1116.0,440.9 1117.5,442.2 C1119.0,443.4 1120.9,445.4 1122.2,447.5 C1123.5,449.6 1124.2,452.6 1125.1,455.1 C1126.0,457.6 1126.7,460.5 1127.5,462.7 C1128.3,464.9 1128.8,467.1 1129.8,468.3 C1130.8,469.5 1132.4,470.1 1133.3,469.7 C1134.2,469.2 1134.5,467.8 1135.3,465.6 C1136.1,463.4 1137.1,459.8 1138.0,456.3 C1138.9,452.8 1140.0,448.7 1140.9,444.6 C1141.8,440.5 1142.5,435.8 1143.3,431.7 C1144.1,427.6 1144.9,424.4 1145.6,420.0 C1146.2,415.6 1146.4,409.3 1147.2,405.2 C1148.0,401.1 1148.9,398.2 1150.2,395.2 C1151.5,392.2 1153.4,389.8 1155.2,387.1 C1157.0,384.4 1159.4,382.3 1161.2,379.1 C1163.0,375.9 1164.7,371.5 1166.2,368.1 C1167.7,364.8 1168.7,362.8 1170.2,359.0 C1171.7,355.2 1173.4,350.4 1175.1,345.3 C1176.8,340.2 1178.4,332.7 1180.1,328.3 C1181.8,323.9 1183.1,321.7 1185.1,319.2 C1187.1,316.7 1190.1,315.4 1192.1,313.2 C1194.1,311.0 1195.4,309.0 1197.1,306.2 C1198.8,303.4 1200.3,299.7 1202.2,296.2 C1204.1,292.7 1206.4,288.6 1208.2,285.1 C1210.0,281.6 1211.9,277.4 1213.2,275.1 C1214.5,272.8 1214.9,270.8 1216.2,271.1 C1217.5,271.4 1219.7,274.6 1221.2,277.1 C1222.7,279.6 1223.7,283.8 1225.2,286.1 C1226.7,288.4 1228.4,290.6 1230.2,291.1 C1232.0,291.6 1234.3,289.8 1236.3,289.1 C1238.3,288.4 1240.3,286.9 1242.3,287.1 C1244.3,287.3 1246.5,288.6 1248.3,290.1 C1250.1,291.6 1251.6,293.7 1253.3,296.2 C1255.0,298.7 1256.6,302.0 1258.3,305.2 C1260.0,308.4 1261.4,312.5 1263.3,315.2 C1265.2,317.9 1267.4,319.9 1269.4,321.2 C1271.4,322.5 1273.6,321.8 1275.4,323.2 C1277.2,324.6 1278.9,326.8 1280.4,329.3 C1281.9,331.8 1283.1,334.8 1284.4,338.3 C1285.7,341.8 1287.2,346.6 1288.4,350.3 C1289.6,354.0 1290.6,357.9 1291.4,360.3 C1292.2,362.7 1292.7,363.2 1293.5,364.5 C1294.3,365.8 1294.9,367.3 1296.5,368.1 C1298.1,368.9 1300.9,368.2 1303.0,369.1 C1305.1,370.0 1307.1,372.0 1309.1,373.2 C1311.1,374.4 1313.1,376.5 1315.1,376.2 C1317.1,375.9 1319.1,373.2 1321.1,371.2 C1323.1,369.2 1325.3,365.5 1327.1,364.1 C1328.9,362.8 1330.4,362.6 1332.1,363.1 C1333.8,363.6 1335.4,364.9 1337.1,367.1 C1338.8,369.3 1340.3,372.5 1342.2,376.2 C1344.1,379.9 1346.2,385.2 1348.2,389.2 C1350.2,393.2 1352.2,396.7 1354.2,400.2 C1356.2,403.7 1358.2,407.6 1360.2,410.3 C1362.2,413.0 1364.0,415.8 1366.2,416.3 C1368.4,416.8 1371.3,412.8 1373.3,413.3 C1375.3,413.8 1376.6,416.8 1378.3,419.3 C1380.0,421.8 1381.5,426.0 1383.3,428.3 C1385.1,430.6 1387.3,433.0 1389.3,433.3 C1391.3,433.6 1393.5,431.8 1395.3,430.3 C1397.1,428.8 1398.4,426.8 1400.3,424.3 C1402.2,421.8 1404.2,418.0 1406.4,415.3 C1408.6,412.6 1411.1,410.1 1413.4,408.3 C1415.7,406.5 1418.6,405.6 1420.4,404.3 C1422.2,403.1 1422.7,401.8 1424.0,400.8 C1425.3,399.8 1427.2,397.9 1428.5,398.1 C1429.8,398.3 1430.8,400.3 1432.0,402.1 C1433.2,403.9 1434.2,406.5 1435.4,408.8 C1436.6,411.1 1438.2,414.6 1439.4,416.2 C1440.6,417.8 1441.5,418.3 1442.7,418.2 C1443.9,418.1 1445.1,416.4 1446.7,415.5 C1448.3,414.6 1450.2,413.5 1452.1,412.8 C1454.0,412.1 1456.2,412.3 1458.1,411.5 C1460.0,410.7 1461.7,409.6 1463.4,408.2 C1465.1,406.8 1466.4,404.2 1468.1,402.8 C1469.8,401.4 1471.9,399.6 1473.5,399.5 C1475.1,399.4 1476.2,400.9 1477.5,402.1 C1478.8,403.3 1480.2,405.6 1481.5,406.8 C1482.8,408.0 1483.8,408.9 1485.5,409.5 C1487.2,410.1 1490.5,410.1 1491.5,410.2" fill="none" stroke="#a6a6a6" stroke-width="4.8" stroke-linejoin="round" stroke-linecap="round"/>
<path d="M957.0,369.0 C958.0,368.9 961.1,367.6 963.0,368.1 C964.9,368.6 966.4,370.1 968.1,372.1 C969.8,374.1 971.4,377.4 973.1,380.1 C974.8,382.8 976.3,385.8 978.1,388.1 C979.9,390.5 982.3,392.0 984.1,394.2 C985.9,396.4 987.7,399.4 989.1,401.2 C990.5,403.0 991.1,405.5 992.6,405.2 C994.1,404.9 996.1,401.7 998.2,399.2 C1000.3,396.7 1002.9,392.4 1005.2,390.2 C1007.5,388.0 1010.2,386.6 1012.2,386.1 C1014.2,385.6 1015.4,386.6 1017.2,387.1 C1019.0,387.6 1021.4,389.6 1023.2,389.1 C1025.0,388.6 1026.6,386.8 1028.3,384.1 C1030.0,381.4 1031.8,376.4 1033.3,373.1 C1034.8,369.8 1036.0,366.1 1037.3,364.1 C1038.5,362.1 1039.5,361.1 1040.8,361.1 C1042.1,361.1 1043.7,362.6 1045.3,364.1 C1046.9,365.6 1048.6,368.8 1050.3,370.1 C1052.0,371.4 1053.4,371.8 1055.3,372.1 C1057.2,372.4 1059.4,371.6 1061.4,372.1 C1063.4,372.6 1065.2,374.1 1067.4,375.1 C1069.6,376.1 1072.2,377.1 1074.4,378.1 C1076.6,379.1 1078.6,379.8 1080.4,381.1 C1082.2,382.4 1083.9,383.8 1085.4,386.1 C1086.9,388.5 1088.0,392.4 1089.4,395.2 C1090.8,398.0 1092.6,400.0 1094.0,403.0 C1095.4,406.0 1096.5,410.1 1098.0,413.2 C1099.5,416.3 1101.2,419.4 1103.0,421.5 C1104.8,423.6 1106.6,424.8 1108.8,426.0 C1111.0,427.2 1114.2,427.5 1116.4,428.5 C1118.6,429.5 1121.2,431.4 1122.2,432.0" fill="none" stroke="#000" stroke-width="9.0" stroke-linejoin="round" stroke-linecap="round"/>
<path d="M1114.2,432.4 L1114.7,432.7 L1115.2,433.0 L1115.8,433.3 L1116.4,433.5 L1117.0,433.8 L1117.5,434.1 L1118.0,434.4 L1118.5,434.7 L1118.7,434.9 L1118.9,435.1 L1119.1,435.3 L1119.4,435.6 L1119.6,436.0 L1119.9,436.4 L1120.2,436.9 L1120.5,437.4 L1120.8,438.1 L1121.1,438.7 L1121.5,439.4 L1121.8,440.1 L1122.2,440.9 L1122.6,441.6 L1122.9,442.3 L1123.3,443.1 L1123.7,443.9 L1124.1,444.7 L1124.4,445.5 L1124.8,446.3 L1125.1,447.1 L1125.4,447.9 L1125.8,448.7 L1126.1,449.4 L1126.4,450.2 L1126.6,451.0 L1126.9,451.8 L1127.2,452.6 L1127.5,453.4 L1127.7,454.2 L1128.0,455.0 L1128.2,455.8 L1128.4,456.6 L1128.6,457.5 L1128.8,458.4 L1128.9,459.3 L1129.1,460.2 L1129.3,461.0 L1129.4,461.8 L1129.5,462.6 L1129.6,463.2 L1129.7,463.6 L1132.7,463.4 L1132.7,462.9 L1132.7,462.3 L1132.7,461.6 L1132.7,460.8 L1132.7,459.9 L1132.7,458.9 L1132.7,458.0 L1132.7,457.0 L1132.7,456.1 L1132.6,455.2 L1132.6,454.3 L1132.6,453.4 L1132.5,452.6 L1132.5,451.7 L1132.4,450.7 L1132.4,449.8 L1132.3,448.9 L1132.2,448.0 L1132.1,447.0 L1132.0,446.1 L1131.8,445.2 L1131.6,444.2 L1131.4,443.3 L1131.2,442.3 L1130.9,441.3 L1130.7,440.4 L1130.4,439.5 L1130.1,438.6 L1129.8,437.7 L1129.6,436.9 L1129.3,436.1 L1129.0,435.3 L1128.7,434.6 L1128.4,433.8 L1128.1,433.0 L1127.7,432.2 L1127.2,431.4 L1126.7,430.5 L1126.2,429.7 L1125.5,428.9 L1124.6,428.1 L1123.7,427.4 L1122.9,426.8 L1122.0,426.3 L1121.2,425.8 L1120.4,425.5 L1119.8,425.1 L1119.2,424.9 L1118.8,424.7 L1118.6,424.6 Z" fill="#000" fill-rule="nonzero"/>
<circle cx="1116.4" cy="428.5" r="4.5" fill="#000"/>
<circle cx="1131.2" cy="463.5" r="1.5" fill="#000"/>
<path d="M1132.6,463.7 L1132.7,462.4 L1133.0,460.7 L1133.2,458.7 L1133.5,456.5 L1133.8,454.1 L1134.1,451.7 L1134.4,449.3 L1134.7,447.0 L1135.0,444.8 L1135.3,443.0 L1135.5,441.4 L1135.8,440.0 L1136.1,438.6 L1136.4,437.4 L1136.6,436.2 L1136.9,435.0 L1137.2,433.9 L1137.4,432.7 L1137.7,431.5 L1138.0,430.3 L1138.2,429.0 L1138.5,427.8 L1138.7,426.5 L1138.9,425.3 L1139.1,424.1 L1139.4,422.9 L1139.6,421.7 L1139.9,420.5 L1140.2,419.3 L1140.6,418.2 L1141.0,417.0 L1141.5,415.8 L1142.0,414.5 L1142.5,413.3 L1143.1,412.1 L1143.7,410.9 L1144.3,409.6 L1144.8,408.4 L1145.4,407.3 L1145.9,406.1 L1146.4,405.0 L1146.9,403.9 L1147.3,402.9 L1147.8,401.9 L1148.2,400.9 L1148.6,399.9 L1149.1,399.0 L1149.5,398.1 L1149.9,397.2 L1150.3,396.3 L1150.7,395.5 L1151.1,394.7 L1151.6,393.9 L1152.0,393.1 L1152.4,392.4 L1152.8,391.5 L1153.3,390.7 L1153.7,389.8 L1154.1,388.8 L1154.5,387.8 L1154.8,386.7 L1155.2,385.6 L1155.5,384.5 L1155.7,383.3 L1156.0,382.2 L1156.2,381.1 L1156.5,380.1 L1156.7,379.0 L1156.9,378.1 L1157.2,377.1 L1157.4,376.2 L1157.6,375.3 L1157.9,374.4 L1158.1,373.5 L1158.3,372.7 L1158.5,372.0 L1158.7,371.2 L1158.9,370.5 L1159.1,369.9 L1159.4,369.3 L1159.6,368.7 L1159.9,368.1 L1160.3,367.4 L1160.7,366.7 L1161.0,366.0 L1161.4,365.4 L1161.8,364.8 L1162.1,364.2 L1162.5,363.7 L1162.7,363.2 L1154.9,358.8 L1154.7,359.1 L1154.4,359.5 L1154.1,360.1 L1153.7,360.8 L1153.3,361.5 L1152.8,362.3 L1152.3,363.2 L1151.9,364.0 L1151.4,365.0 L1151.0,365.9 L1150.7,366.8 L1150.4,367.7 L1150.1,368.6 L1149.8,369.5 L1149.6,370.4 L1149.4,371.3 L1149.1,372.2 L1148.9,373.1 L1148.7,373.9 L1148.4,374.9 L1148.2,375.9 L1147.9,376.9 L1147.7,378.0 L1147.4,379.1 L1147.1,380.2 L1146.9,381.2 L1146.6,382.2 L1146.4,383.2 L1146.1,384.2 L1145.9,385.0 L1145.7,385.9 L1145.5,386.7 L1145.2,387.5 L1145.0,388.3 L1144.7,389.1 L1144.4,389.9 L1144.2,390.8 L1143.9,391.7 L1143.6,392.7 L1143.3,393.7 L1143.0,394.7 L1142.8,395.7 L1142.5,396.7 L1142.3,397.8 L1142.0,398.8 L1141.8,399.9 L1141.5,400.9 L1141.3,402.0 L1141.0,403.2 L1140.7,404.3 L1140.4,405.5 L1140.1,406.7 L1139.7,407.9 L1139.3,409.2 L1139.0,410.6 L1138.6,411.9 L1138.2,413.2 L1137.9,414.6 L1137.5,415.9 L1137.2,417.2 L1136.9,418.5 L1136.7,419.8 L1136.5,421.1 L1136.2,422.3 L1136.0,423.6 L1135.8,424.8 L1135.7,426.0 L1135.5,427.2 L1135.2,428.5 L1135.0,429.7 L1134.8,430.9 L1134.6,432.1 L1134.3,433.2 L1134.1,434.4 L1133.8,435.6 L1133.6,436.8 L1133.3,438.1 L1133.0,439.5 L1132.8,441.0 L1132.5,442.6 L1132.2,444.4 L1131.9,446.6 L1131.6,448.9 L1131.3,451.3 L1131.0,453.8 L1130.7,456.2 L1130.4,458.4 L1130.2,460.4 L1130.0,462.1 L1129.8,463.3 Z" fill="#000" fill-rule="nonzero"/>
<circle cx="1131.2" cy="463.5" r="1.4" fill="#000"/>
<circle cx="1158.8" cy="361.0" r="4.5" fill="#000"/>
<path d="M1152.8,376.0 C1153.2,374.6 1154.2,370.1 1155.2,367.6 C1156.2,365.1 1157.4,363.2 1158.8,361.0 C1160.2,358.8 1162.0,356.6 1163.5,354.5 C1165.0,352.4 1165.9,351.7 1167.5,348.5 C1169.1,345.3 1171.2,340.0 1173.1,335.3 C1175.0,330.6 1177.3,324.9 1179.1,320.2 C1180.9,315.5 1182.3,312.0 1184.1,307.2 C1185.9,302.4 1188.1,295.8 1190.1,291.1 C1192.1,286.4 1194.1,282.3 1196.1,279.1 C1198.1,275.9 1200.0,274.1 1202.2,272.1 C1204.4,270.1 1206.9,268.4 1209.2,267.1 C1211.5,265.8 1214.0,263.9 1216.2,264.1 C1218.4,264.3 1220.0,266.3 1222.2,268.1 C1224.4,269.9 1227.2,274.1 1229.2,275.1 C1231.2,276.1 1232.5,274.9 1234.3,274.1 C1236.1,273.3 1238.3,271.1 1240.3,270.1 C1242.3,269.1 1244.1,267.8 1246.3,268.1 C1248.5,268.4 1251.1,270.1 1253.3,272.1 C1255.5,274.1 1257.5,277.6 1259.3,280.1 C1261.1,282.6 1262.4,285.1 1264.3,287.1 C1266.2,289.1 1268.2,290.6 1270.4,292.1 C1272.6,293.6 1275.4,294.4 1277.4,296.2 C1279.4,298.0 1280.7,300.4 1282.4,303.2 C1284.1,306.0 1285.9,309.9 1287.4,313.2 C1288.9,316.5 1290.0,319.9 1291.4,323.2 C1292.8,326.5 1294.2,330.5 1296.0,333.0 C1297.8,335.5 1300.0,336.1 1302.0,338.0 C1304.0,339.9 1305.8,341.8 1308.0,344.1 C1310.2,346.5 1312.8,351.4 1315.1,352.1 C1317.4,352.8 1319.8,349.3 1322.1,348.1 C1324.4,346.9 1326.8,345.1 1329.1,345.1 C1331.4,345.1 1333.9,346.4 1336.1,348.1 C1338.3,349.8 1340.5,352.4 1342.2,355.1 C1343.9,357.8 1344.9,361.1 1346.2,364.1 C1347.5,367.1 1348.7,370.2 1350.2,373.2 C1351.7,376.2 1353.5,379.0 1355.2,382.2 C1356.9,385.4 1358.5,389.7 1360.2,392.2 C1361.9,394.7 1363.4,397.2 1365.2,397.2 C1367.0,397.2 1369.4,392.5 1371.2,392.2 C1373.0,391.9 1374.6,393.2 1376.3,395.2 C1378.0,397.2 1379.6,401.3 1381.3,404.3 C1383.0,407.3 1384.5,411.0 1386.3,413.3 C1388.1,415.6 1390.5,418.0 1392.3,418.3 C1394.1,418.6 1395.5,417.3 1397.3,415.3 C1399.1,413.3 1401.1,409.5 1403.3,406.3 C1405.5,403.1 1408.2,399.1 1410.4,396.2 C1412.6,393.3 1414.4,391.0 1416.4,389.2 C1418.4,387.4 1420.2,386.8 1422.4,385.5 C1424.6,384.2 1427.6,381.7 1429.4,381.7 C1431.2,381.7 1432.3,383.8 1433.4,385.4 C1434.5,387.0 1435.1,389.4 1436.0,391.4 C1436.9,393.4 1437.6,396.1 1438.7,397.5 C1439.8,398.9 1441.4,400.2 1442.7,400.1 C1444.0,400.0 1445.2,397.9 1446.7,396.8 C1448.2,395.7 1449.6,394.3 1451.4,393.4 C1453.2,392.5 1455.5,392.2 1457.4,391.4 C1459.3,390.6 1461.0,389.9 1462.8,388.8 C1464.6,387.7 1466.3,385.7 1468.1,384.8 C1469.9,383.9 1471.8,383.2 1473.5,383.4 C1475.2,383.6 1476.8,385.0 1478.2,386.1 C1479.7,387.2 1480.8,389.2 1482.2,390.1 C1483.6,391.0 1485.2,391.3 1486.8,391.4 C1488.3,391.5 1490.7,390.9 1491.5,390.8" fill="none" stroke="#000" stroke-width="9.0" stroke-linejoin="round" stroke-linecap="round"/>
<path d="M120.0,874.1 C121.3,874.9 125.3,877.9 128.0,879.1 C130.7,880.3 133.6,881.3 136.1,881.1 C138.6,880.9 140.9,879.8 143.1,878.1 C145.3,876.4 147.1,873.1 149.1,871.1 C151.1,869.1 152.8,867.3 155.1,866.1 C157.4,864.9 160.4,864.4 163.1,864.1 C165.8,863.8 168.5,863.8 171.2,864.1 C173.9,864.4 176.5,864.9 179.2,866.1 C181.9,867.3 184.5,869.6 187.2,871.1 C189.9,872.6 192.5,873.6 195.2,875.1 C197.9,876.6 200.8,878.3 203.3,880.1 C205.8,881.9 208.1,883.8 210.3,886.1 C212.5,888.5 214.3,891.5 216.3,894.2 C218.3,896.9 220.1,899.5 222.3,902.2 C224.5,904.9 227.0,907.7 229.3,910.2 C231.7,912.7 234.1,915.2 236.4,917.2 C238.8,919.2 240.9,921.0 243.4,922.2 C245.9,923.4 248.9,923.7 251.4,924.3 C253.9,924.9 256.0,924.3 258.4,925.6 C260.8,926.9 263.6,929.9 266.0,932.1 C268.4,934.4 270.6,937.4 273.0,939.1 C275.4,940.8 277.8,941.6 280.1,942.1 C282.5,942.6 284.8,942.0 287.1,942.1 C289.4,942.2 291.9,942.1 294.1,942.6 C296.3,943.1 298.3,943.8 300.1,945.2 C301.9,946.6 303.4,948.9 305.1,951.2 C306.8,953.5 308.5,956.2 310.2,959.2 C311.9,962.2 313.5,965.7 315.2,969.2 C316.9,972.7 318.7,976.8 320.2,980.3 C321.7,983.8 322.2,985.0 324.0,990.0 C325.8,995.0 328.8,1003.4 331.0,1010.1 C333.2,1016.8 335.2,1023.4 337.1,1030.1 C339.0,1036.8 340.3,1043.5 342.1,1050.2 C343.9,1056.9 345.9,1063.5 348.1,1070.2 C350.3,1076.9 352.9,1085.0 355.1,1090.3 C357.3,1095.6 359.3,1099.6 361.1,1102.3 C362.9,1105.0 364.2,1106.2 366.1,1106.4 C368.0,1106.6 370.2,1105.5 372.2,1103.3 C374.2,1101.1 376.2,1097.5 378.2,1093.3 C380.2,1089.1 382.2,1084.1 384.2,1078.3 C386.2,1072.5 388.2,1065.2 390.2,1058.2 C392.2,1051.2 394.2,1043.6 396.2,1036.1 C398.2,1028.6 400.3,1020.0 402.2,1013.1 C404.1,1006.2 405.8,1000.9 407.3,995.0 C408.8,989.1 409.2,986.1 411.0,978.0 C412.8,969.9 415.6,955.1 418.0,946.3 C420.4,937.5 422.9,931.6 425.1,925.2 C427.3,918.9 428.9,913.7 431.1,908.2 C433.3,902.7 436.2,895.8 438.1,892.0 C440.0,888.2 441.0,888.1 442.5,885.5 C444.0,882.9 445.4,879.5 447.0,876.5 C448.6,873.5 450.2,870.2 452.0,867.5 C453.8,864.8 455.7,862.7 457.5,860.5 C459.3,858.3 461.1,856.2 463.0,854.5 C464.9,852.8 466.8,851.3 469.1,850.0 C471.5,848.7 474.4,847.5 477.1,846.5 C479.8,845.5 482.4,845.1 485.1,844.2 C487.8,843.3 490.4,842.4 493.2,841.2 C496.0,840.0 499.4,837.4 502.2,837.2 C505.0,837.0 507.4,839.2 510.2,840.2 C513.0,841.2 516.5,843.2 519.2,843.2 C521.9,843.2 523.9,841.9 526.3,840.2 C528.6,838.5 531.0,835.5 533.3,833.2 C535.6,830.9 537.8,828.6 540.3,826.2 C542.8,823.9 545.6,821.0 548.3,819.1 C551.0,817.2 554.3,815.9 556.3,815.1 C558.2,814.4 558.1,814.8 560.0,814.6 C561.9,814.4 564.6,814.0 567.5,813.8 C570.4,813.5 574.5,812.9 577.3,813.1 C580.1,813.4 582.0,814.0 584.1,815.3 C586.2,816.5 588.2,818.6 590.1,820.6 C592.0,822.6 593.4,825.0 595.3,827.4 C597.2,829.8 599.3,832.6 601.4,834.9 C603.5,837.1 606.0,839.1 608.1,840.9 C610.2,842.6 612.1,843.8 614.1,845.4 C616.1,847.0 618.2,848.8 620.2,850.7 C622.2,852.6 624.2,854.7 626.2,856.7 C628.2,858.7 630.2,860.7 632.2,862.7 C634.2,864.7 636.2,867.1 638.2,868.5 C640.2,869.9 641.9,870.9 644.2,871.2 C646.5,871.5 649.5,870.7 652.2,870.2 C654.9,869.7 657.5,869.2 660.2,868.2 C662.9,867.2 665.6,865.4 668.3,864.2 C671.0,863.0 673.6,862.0 676.3,861.2 C679.0,860.5 682.0,859.9 684.3,859.7 C686.6,859.5 689.3,860.1 690.3,860.2" fill="none" stroke="#a6a6a6" stroke-width="4.8" stroke-linejoin="round" stroke-linecap="round"/>
<path d="M119.0,870.1 C120.3,870.1 124.3,870.3 127.0,870.1 C129.7,869.9 132.4,870.1 135.1,869.1 C137.8,868.1 140.4,865.8 143.1,864.1 C145.8,862.4 148.4,860.4 151.1,859.1 C153.8,857.8 156.4,857.0 159.1,856.5 C161.8,856.0 164.5,855.8 167.2,856.0 C169.9,856.2 172.5,856.8 175.2,857.6 C177.9,858.4 180.5,859.5 183.2,860.6 C185.9,861.7 188.5,863.0 191.2,864.1 C193.9,865.2 196.6,865.9 199.3,867.1 C202.0,868.3 204.8,869.6 207.3,871.1 C209.8,872.6 212.0,874.3 214.3,876.1 C216.6,877.9 218.8,880.1 221.3,882.1 C223.8,884.1 226.6,885.9 229.3,888.1 C232.0,890.3 234.7,893.0 237.4,895.2 C240.1,897.4 242.7,899.7 245.4,901.2 C248.1,902.7 251.1,903.5 253.4,904.2 C255.7,904.9 257.3,904.3 259.4,905.2 C261.5,906.1 263.9,907.7 266.0,909.5 C268.1,911.3 270.0,914.3 272.0,916.1 C274.0,917.9 275.9,919.8 278.1,920.1 C280.3,920.4 282.6,918.6 285.1,918.1 C287.6,917.6 290.6,916.9 293.1,917.1 C295.6,917.3 298.1,917.9 300.1,919.1 C302.1,920.3 303.4,921.9 305.1,924.1 C306.8,926.3 308.5,929.3 310.2,932.1 C311.9,934.9 313.5,938.1 315.2,941.1 C316.9,944.1 318.5,947.2 320.2,950.2 C321.9,953.2 323.5,956.0 325.2,959.2 C326.9,962.4 328.7,965.9 330.2,969.2 C331.7,972.6 333.0,975.9 334.2,979.3 C335.4,982.6 336.2,985.6 337.2,989.3 C338.2,993.0 339.3,997.0 340.1,1001.3 C340.9,1005.6 341.4,1010.2 342.2,1015.0 C343.0,1019.8 343.6,1024.2 345.1,1030.1 C346.6,1036.0 349.1,1043.8 351.1,1050.2 C353.1,1056.6 355.3,1063.4 357.1,1068.2 C358.9,1073.0 360.4,1076.8 362.1,1079.3 C363.8,1081.8 365.2,1083.1 367.1,1083.3 C369.0,1083.5 371.4,1082.5 373.2,1080.3 C375.0,1078.1 376.5,1074.4 378.2,1070.2 C379.9,1066.0 381.5,1060.7 383.2,1055.2 C384.9,1049.7 386.5,1043.3 388.2,1037.1 C389.9,1030.9 391.8,1023.7 393.5,1018.0 C395.2,1012.3 396.9,1007.7 398.2,1003.0 C399.5,998.3 400.5,994.5 401.5,990.0 C402.5,985.5 403.5,980.1 404.4,976.0 C405.3,971.9 405.7,971.2 407.0,965.3 C408.3,959.3 410.3,947.5 412.0,940.3 C413.7,933.1 415.3,927.9 417.0,922.2 C418.7,916.5 420.2,911.6 422.1,906.2 C424.0,900.9 426.3,895.1 428.1,890.1 C429.9,885.1 431.4,880.3 433.1,876.1 C434.8,871.9 436.6,868.2 438.1,865.0 C439.6,861.8 440.5,860.5 442.1,857.0 C443.8,853.5 445.9,849.0 448.0,844.2 C450.1,839.4 452.6,833.1 455.0,828.2 C457.4,823.4 459.8,818.8 462.1,815.1 C464.5,811.4 466.6,808.6 469.1,806.1 C471.6,803.6 474.4,801.4 477.1,800.1 C479.8,798.8 482.4,798.9 485.1,798.1 C487.8,797.3 490.4,796.1 493.2,795.1 C496.0,794.1 499.4,792.1 502.2,792.1 C505.0,792.1 507.9,793.9 510.2,795.1 C512.5,796.3 514.0,798.3 516.2,799.1 C518.4,799.9 520.9,800.4 523.3,800.1 C525.6,799.8 527.8,798.4 530.3,797.1 C532.8,795.8 535.6,793.6 538.3,792.1 C541.0,790.6 543.6,789.1 546.3,788.1 C549.0,787.1 552.0,785.9 554.3,786.0 C556.6,786.1 557.8,787.9 560.0,789.0 C562.2,790.1 565.0,791.5 567.5,792.8 C570.0,794.0 572.5,795.2 575.0,796.5 C577.5,797.8 580.3,798.9 582.6,800.3 C584.9,801.7 586.7,803.0 588.6,804.8 C590.5,806.5 591.9,808.8 593.8,810.8 C595.7,812.8 597.7,814.8 599.8,816.8 C601.9,818.8 604.5,820.9 606.6,822.9 C608.7,824.9 610.6,826.8 612.6,828.9 C614.6,831.0 616.7,833.4 618.6,835.6 C620.5,837.9 622.0,840.1 623.9,842.4 C625.8,844.7 627.9,847.2 629.9,849.2 C631.9,851.2 634.0,853.0 635.9,854.4 C637.8,855.8 639.4,856.8 641.2,857.4 C643.0,858.0 644.1,858.1 646.5,858.2 C648.9,858.3 652.1,858.6 655.5,857.9 C658.9,857.2 663.0,855.5 666.7,854.1 C670.5,852.7 675.1,850.4 678.0,849.4 C680.9,848.4 682.0,848.4 684.0,848.3 C686.0,848.2 689.2,848.6 690.3,848.7" fill="none" stroke="#000" stroke-width="9.0" stroke-linejoin="round" stroke-linecap="round"/>
<path d="M960.0,861.6 C961.4,861.6 965.6,861.0 968.1,861.6 C970.6,862.2 972.8,863.4 975.1,865.1 C977.4,866.9 979.8,869.8 982.1,872.1 C984.4,874.4 986.8,876.8 989.1,879.1 C991.4,881.4 993.6,883.9 996.1,886.1 C998.6,888.3 1001.5,890.5 1004.2,892.2 C1006.9,893.9 1009.5,894.7 1012.2,896.2 C1014.9,897.7 1017.5,899.5 1020.2,901.2 C1022.9,902.9 1025.7,904.5 1028.2,906.2 C1030.7,907.9 1032.6,909.9 1035.3,911.2 C1038.0,912.5 1041.3,913.4 1044.3,914.2 C1047.3,915.0 1050.3,915.5 1053.3,916.2 C1056.3,916.9 1059.3,917.5 1062.3,918.2 C1065.3,918.9 1068.6,919.5 1071.4,920.2 C1074.2,920.9 1076.7,921.4 1079.4,922.2 C1082.1,923.1 1085.1,923.9 1087.4,925.3 C1089.7,926.6 1091.4,928.3 1093.4,930.3 C1095.4,932.3 1097.5,934.8 1099.5,937.3 C1101.5,939.8 1103.6,943.0 1105.5,945.3 C1107.4,947.6 1108.7,948.3 1111.0,951.1 C1113.3,953.9 1116.6,958.4 1119.1,962.1 C1121.6,965.8 1123.9,969.4 1126.1,973.2 C1128.3,977.1 1130.3,981.0 1132.1,985.2 C1133.9,989.4 1135.3,994.1 1137.1,998.3 C1138.9,1002.5 1140.9,1006.6 1143.1,1010.3 C1145.3,1014.0 1147.7,1017.8 1150.2,1020.3 C1152.7,1022.8 1155.4,1024.3 1158.2,1025.3 C1161.0,1026.3 1164.4,1026.5 1167.2,1026.3 C1170.0,1026.1 1172.5,1025.6 1175.2,1024.3 C1177.9,1023.0 1180.8,1020.8 1183.3,1018.3 C1185.8,1015.8 1188.0,1012.8 1190.3,1009.3 C1192.6,1005.8 1195.0,1001.6 1197.3,997.2 C1199.6,992.9 1202.1,987.9 1204.3,983.2 C1206.5,978.5 1208.3,973.9 1210.3,969.2 C1212.3,964.5 1214.6,959.6 1216.4,955.1 C1218.2,950.6 1219.7,946.6 1221.4,942.1 C1223.1,937.6 1225.1,931.9 1226.4,928.0 C1227.8,924.1 1227.7,924.5 1229.5,919.0 C1231.3,913.5 1234.3,902.8 1237.1,895.3 C1239.9,887.8 1243.5,880.6 1246.2,874.2 C1248.9,867.9 1250.7,862.8 1253.2,857.2 C1255.7,851.6 1258.5,845.9 1261.0,840.7 C1263.5,835.5 1265.6,831.1 1268.0,826.2 C1270.4,821.3 1273.1,815.7 1275.5,811.5 C1277.9,807.3 1279.9,804.4 1282.2,801.0 C1284.5,797.6 1286.6,794.2 1289.1,791.2 C1291.6,788.2 1294.4,785.4 1297.1,783.2 C1299.8,781.0 1302.4,779.2 1305.1,778.2 C1307.8,777.2 1310.2,777.2 1313.2,777.2 C1316.2,777.2 1319.9,778.4 1323.2,778.2 C1326.5,778.0 1330.0,776.9 1333.2,776.2 C1336.4,775.5 1339.4,774.5 1342.2,774.1 C1345.0,773.8 1347.6,773.8 1350.3,774.1 C1353.0,774.5 1355.6,775.0 1358.3,776.2 C1361.0,777.4 1363.6,779.7 1366.3,781.2 C1369.0,782.7 1371.8,783.7 1374.3,785.2 C1376.8,786.7 1379.1,788.0 1381.4,790.2 C1383.8,792.4 1386.1,795.4 1388.4,798.2 C1390.7,801.0 1393.2,804.7 1395.4,807.2 C1397.6,809.8 1399.3,811.3 1401.5,813.5 C1403.7,815.7 1406.3,818.4 1408.8,820.5 C1411.3,822.6 1413.9,824.2 1416.6,826.0 C1419.3,827.8 1422.3,829.6 1425.1,831.0 C1427.9,832.4 1430.9,833.2 1433.4,834.3 C1435.9,835.4 1437.9,836.2 1440.1,837.6 C1442.3,839.0 1444.4,841.2 1446.8,842.7 C1449.2,844.2 1451.6,845.5 1454.3,846.8 C1457.0,848.0 1459.9,849.1 1462.7,850.2 C1465.5,851.3 1468.2,852.5 1471.0,853.5 C1473.8,854.5 1476.6,855.3 1479.4,856.0 C1482.2,856.7 1485.2,857.4 1487.7,857.7 C1490.2,858.1 1493.3,858.0 1494.4,858.1" fill="none" stroke="#a6a6a6" stroke-width="4.8" stroke-linejoin="round" stroke-linecap="round"/>
<path d="M960.0,855.5 C961.4,855.4 965.4,854.7 968.1,855.0 C970.8,855.3 973.6,856.1 976.1,857.1 C978.6,858.1 980.8,859.4 983.1,861.1 C985.4,862.8 987.8,864.9 990.1,867.1 C992.4,869.3 994.6,871.8 997.1,874.1 C999.6,876.4 1002.5,879.1 1005.2,881.1 C1007.9,883.1 1010.5,884.4 1013.2,886.1 C1015.9,887.8 1018.5,889.5 1021.2,891.2 C1023.9,892.9 1026.7,894.9 1029.2,896.2 C1031.7,897.5 1033.8,898.8 1036.3,899.2 C1038.8,899.6 1041.6,898.9 1044.3,898.7 C1047.0,898.5 1049.6,898.1 1052.3,898.2 C1055.0,898.3 1057.6,898.7 1060.3,899.2 C1063.0,899.7 1065.7,900.4 1068.4,901.2 C1071.1,902.0 1073.7,903.0 1076.4,904.2 C1079.1,905.4 1082.1,906.9 1084.4,908.2 C1086.7,909.5 1088.4,910.5 1090.4,912.2 C1092.4,913.9 1094.1,916.0 1096.4,918.5 C1098.7,921.0 1101.4,924.1 1104.0,927.3 C1106.6,930.5 1109.2,934.2 1112.0,937.8 C1114.8,941.4 1118.4,945.4 1121.1,949.1 C1123.8,952.8 1125.9,956.4 1128.1,960.1 C1130.3,963.8 1132.3,967.4 1134.1,971.2 C1135.9,975.1 1137.4,979.2 1139.1,983.2 C1140.8,987.2 1142.2,991.5 1144.1,995.2 C1145.9,998.9 1148.0,1002.9 1150.2,1005.3 C1152.4,1007.6 1154.7,1008.5 1157.2,1009.3 C1159.7,1010.0 1162.5,1010.1 1165.2,1009.8 C1167.9,1009.5 1170.5,1008.5 1173.2,1007.3 C1175.9,1006.0 1178.8,1004.5 1181.3,1002.3 C1183.8,1000.1 1186.1,997.4 1188.3,994.2 C1190.5,991.0 1192.3,987.0 1194.3,983.2 C1196.3,979.4 1198.3,975.6 1200.3,971.2 C1202.3,966.9 1204.3,961.8 1206.3,957.1 C1208.3,952.4 1210.6,947.4 1212.4,943.1 C1214.2,938.8 1215.5,935.4 1217.0,931.5 C1218.5,927.6 1219.0,926.0 1221.2,919.5 C1223.4,913.0 1227.3,900.0 1230.1,892.3 C1232.9,884.6 1235.8,879.2 1238.1,873.2 C1240.4,867.2 1242.0,861.7 1244.2,856.2 C1246.4,850.7 1248.7,845.6 1251.2,840.1 C1253.7,834.6 1256.5,828.4 1259.0,823.0 C1261.5,817.6 1263.8,813.5 1266.5,808.0 C1269.2,802.5 1272.2,795.3 1275.0,790.2 C1277.8,785.1 1280.2,781.1 1283.1,777.2 C1285.9,773.4 1288.9,770.1 1292.1,767.1 C1295.3,764.1 1298.8,761.4 1302.1,759.1 C1305.4,756.8 1308.8,754.8 1312.2,753.1 C1315.6,751.4 1318.9,750.4 1322.2,749.1 C1325.5,747.8 1329.2,746.3 1332.2,745.1 C1335.2,743.9 1337.7,742.8 1340.2,742.1 C1342.7,741.4 1344.8,740.8 1347.3,741.0 C1349.8,741.2 1352.6,741.9 1355.3,743.1 C1358.0,744.3 1360.6,746.1 1363.3,748.1 C1366.0,750.1 1368.6,752.9 1371.3,755.1 C1374.0,757.3 1376.9,758.8 1379.4,761.1 C1381.9,763.4 1384.1,766.1 1386.4,769.1 C1388.7,772.1 1391.0,776.0 1393.4,779.2 C1395.8,782.4 1398.4,785.5 1400.8,788.3 C1403.2,791.1 1405.3,793.5 1408.0,796.0 C1410.7,798.5 1413.9,800.9 1416.7,803.0 C1419.5,805.1 1422.3,806.9 1425.1,808.4 C1427.9,809.9 1430.9,810.5 1433.4,811.7 C1435.9,813.0 1437.9,814.1 1440.1,815.9 C1442.3,817.7 1444.4,820.5 1446.8,822.6 C1449.2,824.7 1451.6,826.7 1454.3,828.5 C1457.0,830.3 1459.9,831.8 1462.7,833.5 C1465.5,835.2 1468.2,836.8 1471.0,838.5 C1473.8,840.2 1476.6,842.0 1479.4,843.5 C1482.2,845.0 1485.3,846.9 1487.7,847.7 C1490.1,848.5 1492.6,848.4 1493.6,848.5" fill="none" stroke="#000" stroke-width="9.0" stroke-linejoin="round" stroke-linecap="round"/>
</svg></body></html>
